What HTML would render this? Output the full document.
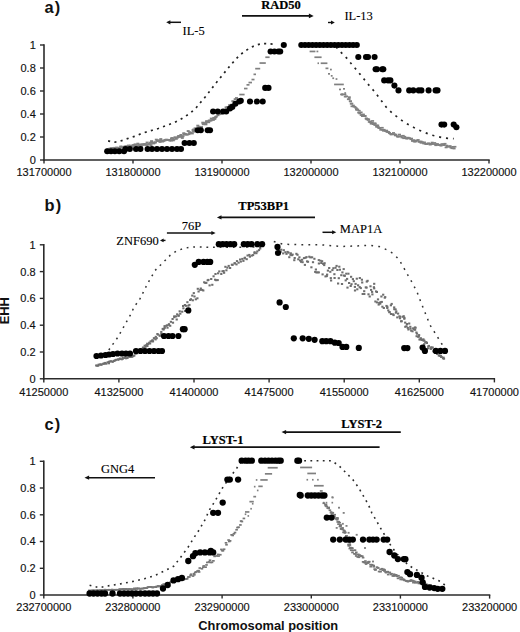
<!DOCTYPE html>
<html><head><meta charset="utf-8"><style>
html,body{margin:0;padding:0;background:#fff;}
svg{display:block;}
.n{font-family:"Liberation Sans",sans-serif;font-size:11px;fill:#111;stroke:#111;stroke-width:0.15px;}
.lab{font-family:"Liberation Sans",sans-serif;font-size:16.4px;letter-spacing:1.2px;font-weight:bold;fill:#111;}
.ax{font-family:"Liberation Sans",sans-serif;font-size:12.85px;font-weight:bold;fill:#111;}
.g{font-family:"Liberation Serif",serif;font-size:12.5px;fill:#000;stroke:#000;stroke-width:0.12px;}
.gb{font-family:"Liberation Serif",serif;font-size:12.5px;font-weight:bold;fill:#000;stroke:#000;stroke-width:0.2px;}
</style></head><body>
<svg width="520" height="632" viewBox="0 0 520 632">
<rect width="520" height="632" fill="#fff"/>
<line x1="44" y1="44.3" x2="44" y2="160.7" stroke="#2b2b2b" stroke-width="1.6"/>
<line x1="43.3" y1="160" x2="489.7" y2="160" stroke="#2b2b2b" stroke-width="1.6"/>
<line x1="40" y1="160.0" x2="44" y2="160.0" stroke="#2b2b2b" stroke-width="1.4"/>
<text x="35.8" y="163.9" text-anchor="end" class="n">0</text>
<line x1="40" y1="137.0" x2="44" y2="137.0" stroke="#2b2b2b" stroke-width="1.4"/>
<text x="35.8" y="140.9" text-anchor="end" class="n">0.2</text>
<line x1="40" y1="114.0" x2="44" y2="114.0" stroke="#2b2b2b" stroke-width="1.4"/>
<text x="35.8" y="117.9" text-anchor="end" class="n">0.4</text>
<line x1="40" y1="91.0" x2="44" y2="91.0" stroke="#2b2b2b" stroke-width="1.4"/>
<text x="35.8" y="94.9" text-anchor="end" class="n">0.6</text>
<line x1="40" y1="68.0" x2="44" y2="68.0" stroke="#2b2b2b" stroke-width="1.4"/>
<text x="35.8" y="71.9" text-anchor="end" class="n">0.8</text>
<line x1="40" y1="45.0" x2="44" y2="45.0" stroke="#2b2b2b" stroke-width="1.4"/>
<text x="35.8" y="48.9" text-anchor="end" class="n">1</text>
<line x1="44" y1="160" x2="44" y2="163.6" stroke="#2b2b2b" stroke-width="1.4"/>
<text x="44" y="176.2" text-anchor="middle" class="n">131700000</text>
<line x1="133" y1="160" x2="133" y2="163.6" stroke="#2b2b2b" stroke-width="1.4"/>
<text x="133" y="176.2" text-anchor="middle" class="n">131800000</text>
<line x1="222" y1="160" x2="222" y2="163.6" stroke="#2b2b2b" stroke-width="1.4"/>
<text x="222" y="176.2" text-anchor="middle" class="n">131900000</text>
<line x1="311" y1="160" x2="311" y2="163.6" stroke="#2b2b2b" stroke-width="1.4"/>
<text x="311" y="176.2" text-anchor="middle" class="n">132000000</text>
<line x1="400" y1="160" x2="400" y2="163.6" stroke="#2b2b2b" stroke-width="1.4"/>
<text x="400" y="176.2" text-anchor="middle" class="n">132100000</text>
<line x1="489" y1="160" x2="489" y2="163.6" stroke="#2b2b2b" stroke-width="1.4"/>
<text x="489" y="176.2" text-anchor="middle" class="n">132200000</text>
<text x="44.5" y="12.7" class="lab" text-anchor="start">a)</text>
<line x1="181" y1="22.3" x2="168.72" y2="22.3" stroke="#111" stroke-width="1.5"/>
<path d="M166.2,22.3 L170.39999999999998,20.2 L170.39999999999998,24.400000000000002 Z" fill="#111"/>
<text x="182.5" y="35.4" class="g" text-anchor="start">IL-5</text>
<line x1="242" y1="15.9" x2="310.82" y2="15.9" stroke="#111" stroke-width="1.8"/>
<path d="M313.7,15.9 L308.9,13.5 L308.9,18.3 Z" fill="#111"/>
<text x="281" y="9.4" class="gb" text-anchor="middle">RAD50</text>
<line x1="328" y1="22.5" x2="332.52000000000004" y2="22.5" stroke="#111" stroke-width="1.4"/>
<path d="M334.8,22.5 L331.0,20.5 L331.0,24.5 Z" fill="#111"/>
<text x="344.4" y="20.1" class="g" text-anchor="start">IL-13</text>
<rect x="106.3" y="148.4" width="3.0" height="2.0" fill="#808080"/>
<rect x="107.1" y="148.5" width="3.0" height="2.0" fill="#808080"/>
<rect x="108.5" y="147.6" width="3.0" height="2.0" fill="#808080"/>
<rect x="109.5" y="147.8" width="3.0" height="2.0" fill="#808080"/>
<rect x="110.0" y="147.3" width="3.0" height="2.0" fill="#808080"/>
<rect x="111.1" y="147.5" width="3.0" height="2.0" fill="#808080"/>
<rect x="112.4" y="147.4" width="3.0" height="2.0" fill="#808080"/>
<rect x="113.2" y="146.9" width="3.0" height="2.0" fill="#808080"/>
<rect x="114.6" y="147.7" width="3.0" height="2.0" fill="#808080"/>
<rect x="115.3" y="146.6" width="3.0" height="2.0" fill="#808080"/>
<rect x="116.9" y="147.9" width="3.0" height="2.0" fill="#808080"/>
<rect x="117.2" y="147.0" width="3.0" height="2.0" fill="#808080"/>
<rect x="118.1" y="146.9" width="3.0" height="2.0" fill="#808080"/>
<rect x="118.8" y="146.8" width="3.0" height="2.0" fill="#808080"/>
<rect x="119.2" y="145.6" width="3.0" height="2.0" fill="#808080"/>
<rect x="120.3" y="145.8" width="3.0" height="2.0" fill="#808080"/>
<rect x="121.5" y="146.3" width="3.0" height="2.0" fill="#808080"/>
<rect x="122.1" y="146.1" width="3.0" height="2.0" fill="#808080"/>
<rect x="123.6" y="145.4" width="3.0" height="2.0" fill="#808080"/>
<rect x="124.4" y="146.0" width="3.0" height="2.0" fill="#808080"/>
<rect x="125.3" y="145.3" width="3.0" height="2.0" fill="#808080"/>
<rect x="126.5" y="146.7" width="3.0" height="2.0" fill="#808080"/>
<rect x="126.9" y="144.6" width="3.0" height="2.0" fill="#808080"/>
<rect x="128.5" y="144.9" width="3.0" height="2.0" fill="#808080"/>
<rect x="129.3" y="144.7" width="3.0" height="2.0" fill="#808080"/>
<rect x="129.6" y="147.1" width="3.0" height="2.0" fill="#808080"/>
<rect x="130.8" y="144.9" width="3.0" height="2.0" fill="#808080"/>
<rect x="131.8" y="144.4" width="3.0" height="2.0" fill="#808080"/>
<rect x="132.3" y="144.0" width="3.0" height="2.0" fill="#808080"/>
<rect x="133.6" y="143.4" width="3.0" height="2.0" fill="#808080"/>
<rect x="134.8" y="144.0" width="3.0" height="2.0" fill="#808080"/>
<rect x="135.4" y="145.6" width="3.0" height="2.0" fill="#808080"/>
<rect x="136.3" y="142.7" width="3.0" height="2.0" fill="#808080"/>
<rect x="137.5" y="144.6" width="3.0" height="2.0" fill="#808080"/>
<rect x="137.9" y="143.9" width="3.0" height="2.0" fill="#808080"/>
<rect x="139.1" y="143.6" width="3.0" height="2.0" fill="#808080"/>
<rect x="139.9" y="145.5" width="3.0" height="2.0" fill="#808080"/>
<rect x="140.4" y="143.6" width="3.0" height="2.0" fill="#808080"/>
<rect x="141.4" y="143.5" width="3.0" height="2.0" fill="#808080"/>
<rect x="142.4" y="143.3" width="3.0" height="2.0" fill="#808080"/>
<rect x="143.0" y="143.6" width="3.0" height="2.0" fill="#808080"/>
<rect x="144.5" y="143.4" width="3.0" height="2.0" fill="#808080"/>
<rect x="143.9" y="143.2" width="3.0" height="2.0" fill="#808080"/>
<rect x="145.6" y="144.0" width="3.0" height="2.0" fill="#808080"/>
<rect x="145.6" y="141.6" width="3.0" height="2.0" fill="#808080"/>
<rect x="147.3" y="143.1" width="3.0" height="2.0" fill="#808080"/>
<rect x="148.2" y="143.1" width="3.0" height="2.0" fill="#808080"/>
<rect x="148.6" y="141.7" width="3.0" height="2.0" fill="#808080"/>
<rect x="149.5" y="144.1" width="3.0" height="2.0" fill="#808080"/>
<rect x="150.1" y="140.2" width="3.0" height="2.0" fill="#808080"/>
<rect x="151.0" y="141.9" width="3.0" height="2.0" fill="#808080"/>
<rect x="152.2" y="142.4" width="3.0" height="2.0" fill="#808080"/>
<rect x="153.2" y="141.5" width="3.0" height="2.0" fill="#808080"/>
<rect x="153.9" y="141.4" width="3.0" height="2.0" fill="#808080"/>
<rect x="154.8" y="138.7" width="3.0" height="2.0" fill="#808080"/>
<rect x="156.0" y="139.9" width="3.0" height="2.0" fill="#808080"/>
<rect x="156.7" y="139.6" width="3.0" height="2.0" fill="#808080"/>
<rect x="157.1" y="139.5" width="3.0" height="2.0" fill="#808080"/>
<rect x="158.5" y="140.9" width="3.0" height="2.0" fill="#808080"/>
<rect x="159.3" y="138.1" width="3.0" height="2.0" fill="#808080"/>
<rect x="159.7" y="139.7" width="3.0" height="2.0" fill="#808080"/>
<rect x="160.9" y="140.2" width="3.0" height="2.0" fill="#808080"/>
<rect x="161.2" y="140.4" width="3.0" height="2.0" fill="#808080"/>
<rect x="162.2" y="139.8" width="3.0" height="2.0" fill="#808080"/>
<rect x="163.2" y="139.3" width="3.0" height="2.0" fill="#808080"/>
<rect x="163.9" y="139.1" width="3.0" height="2.0" fill="#808080"/>
<rect x="164.7" y="138.7" width="3.0" height="2.0" fill="#808080"/>
<rect x="166.4" y="138.9" width="3.0" height="2.0" fill="#808080"/>
<rect x="167.0" y="139.0" width="3.0" height="2.0" fill="#808080"/>
<rect x="167.6" y="139.0" width="3.0" height="2.0" fill="#808080"/>
<rect x="168.5" y="139.6" width="3.0" height="2.0" fill="#808080"/>
<rect x="170.0" y="139.4" width="3.0" height="2.0" fill="#808080"/>
<rect x="170.4" y="137.2" width="3.0" height="2.0" fill="#808080"/>
<rect x="170.0" y="137.7" width="3.0" height="2.0" fill="#808080"/>
<rect x="171.1" y="137.3" width="3.0" height="2.0" fill="#808080"/>
<rect x="171.8" y="139.3" width="3.0" height="2.0" fill="#808080"/>
<rect x="172.5" y="138.3" width="3.0" height="2.0" fill="#808080"/>
<rect x="173.5" y="136.3" width="3.0" height="2.0" fill="#808080"/>
<rect x="174.8" y="137.8" width="3.0" height="2.0" fill="#808080"/>
<rect x="176.1" y="136.5" width="3.0" height="2.0" fill="#808080"/>
<rect x="176.8" y="135.7" width="3.0" height="2.0" fill="#808080"/>
<rect x="177.2" y="135.0" width="3.0" height="2.0" fill="#808080"/>
<rect x="177.9" y="135.7" width="3.0" height="2.0" fill="#808080"/>
<rect x="179.4" y="134.0" width="3.0" height="2.0" fill="#808080"/>
<rect x="179.3" y="135.5" width="3.0" height="2.0" fill="#808080"/>
<rect x="180.8" y="136.9" width="3.0" height="2.0" fill="#808080"/>
<rect x="181.5" y="135.2" width="3.0" height="2.0" fill="#808080"/>
<rect x="182.3" y="132.3" width="3.0" height="2.0" fill="#808080"/>
<rect x="182.6" y="132.9" width="3.0" height="2.0" fill="#808080"/>
<rect x="183.2" y="133.5" width="3.0" height="2.0" fill="#808080"/>
<rect x="184.1" y="133.1" width="3.0" height="2.0" fill="#808080"/>
<rect x="185.6" y="133.7" width="3.0" height="2.0" fill="#808080"/>
<rect x="186.7" y="130.1" width="3.0" height="2.0" fill="#808080"/>
<rect x="187.5" y="133.1" width="3.0" height="2.0" fill="#808080"/>
<rect x="188.3" y="131.4" width="3.0" height="2.0" fill="#808080"/>
<rect x="188.4" y="132.2" width="3.0" height="2.0" fill="#808080"/>
<rect x="189.3" y="131.7" width="3.0" height="2.0" fill="#808080"/>
<rect x="190.8" y="132.4" width="3.0" height="2.0" fill="#808080"/>
<rect x="191.6" y="129.0" width="3.0" height="2.0" fill="#808080"/>
<rect x="192.1" y="130.6" width="3.0" height="2.0" fill="#808080"/>
<rect x="192.1" y="128.6" width="3.0" height="2.0" fill="#808080"/>
<rect x="193.6" y="127.4" width="3.0" height="2.0" fill="#808080"/>
<rect x="194.3" y="128.2" width="3.0" height="2.0" fill="#808080"/>
<rect x="195.1" y="128.5" width="3.0" height="2.0" fill="#808080"/>
<rect x="195.4" y="128.8" width="3.0" height="2.0" fill="#808080"/>
<rect x="196.3" y="124.7" width="3.0" height="2.0" fill="#808080"/>
<rect x="197.1" y="128.5" width="3.0" height="2.0" fill="#808080"/>
<rect x="197.6" y="125.8" width="3.0" height="2.0" fill="#808080"/>
<rect x="198.4" y="127.1" width="3.0" height="2.0" fill="#808080"/>
<rect x="199.8" y="127.1" width="3.0" height="2.0" fill="#808080"/>
<rect x="200.0" y="126.1" width="3.0" height="2.0" fill="#808080"/>
<rect x="201.3" y="121.7" width="3.0" height="2.0" fill="#808080"/>
<rect x="201.8" y="123.2" width="3.0" height="2.0" fill="#808080"/>
<rect x="202.3" y="123.0" width="3.0" height="2.0" fill="#808080"/>
<rect x="204.1" y="121.9" width="3.0" height="2.0" fill="#808080"/>
<rect x="204.9" y="121.1" width="3.0" height="2.0" fill="#808080"/>
<rect x="204.4" y="123.3" width="3.0" height="2.0" fill="#808080"/>
<rect x="205.1" y="120.2" width="3.0" height="2.0" fill="#808080"/>
<rect x="206.0" y="120.8" width="3.0" height="2.0" fill="#808080"/>
<rect x="207.2" y="121.2" width="3.0" height="2.0" fill="#808080"/>
<rect x="207.8" y="119.5" width="3.0" height="2.0" fill="#808080"/>
<rect x="209.4" y="119.6" width="3.0" height="2.0" fill="#808080"/>
<rect x="209.8" y="117.6" width="3.0" height="2.0" fill="#808080"/>
<rect x="211.4" y="118.6" width="3.0" height="2.0" fill="#808080"/>
<rect x="211.9" y="118.7" width="3.0" height="2.0" fill="#808080"/>
<rect x="212.3" y="116.9" width="3.0" height="2.0" fill="#808080"/>
<rect x="213.3" y="117.9" width="3.0" height="2.0" fill="#808080"/>
<rect x="214.0" y="116.3" width="3.0" height="2.0" fill="#808080"/>
<rect x="214.8" y="115.6" width="3.0" height="2.0" fill="#808080"/>
<rect x="216.4" y="114.2" width="3.0" height="2.0" fill="#808080"/>
<rect x="217.7" y="113.2" width="3.0" height="2.0" fill="#808080"/>
<rect x="218.6" y="113.0" width="3.0" height="2.0" fill="#808080"/>
<rect x="219.7" y="112.6" width="3.0" height="2.0" fill="#808080"/>
<rect x="220.8" y="111.4" width="3.0" height="2.0" fill="#808080"/>
<rect x="221.2" y="111.0" width="3.0" height="2.0" fill="#808080"/>
<rect x="222.5" y="111.9" width="3.0" height="2.0" fill="#808080"/>
<rect x="223.7" y="109.5" width="3.0" height="2.0" fill="#808080"/>
<rect x="224.6" y="106.4" width="3.0" height="2.0" fill="#808080"/>
<rect x="225.9" y="106.2" width="3.0" height="2.0" fill="#808080"/>
<rect x="227.2" y="106.2" width="3.0" height="2.0" fill="#808080"/>
<rect x="228.2" y="104.1" width="3.0" height="2.0" fill="#808080"/>
<rect x="229.9" y="103.8" width="3.0" height="2.0" fill="#808080"/>
<rect x="230.7" y="104.5" width="3.0" height="2.0" fill="#808080"/>
<rect x="231.4" y="100.2" width="3.0" height="2.0" fill="#808080"/>
<rect x="232.9" y="101.8" width="3.0" height="2.0" fill="#808080"/>
<rect x="233.7" y="98.2" width="3.0" height="2.0" fill="#808080"/>
<rect x="235.0" y="97.1" width="3.0" height="2.0" fill="#808080"/>
<rect x="265.3" y="56.4" width="4.3" height="1.7" fill="#808080"/>
<rect x="259.5" y="62.2" width="6.3" height="1.7" fill="#808080"/>
<rect x="255.2" y="67.8" width="5.0" height="1.7" fill="#808080"/>
<rect x="253.5" y="73.5" width="2.5" height="1.7" fill="#808080"/>
<rect x="251.5" y="78.7" width="3.0" height="1.7" fill="#808080"/>
<rect x="248.5" y="81.7" width="3.5" height="1.7" fill="#808080"/>
<rect x="246.5" y="84.0" width="3.0" height="1.7" fill="#808080"/>
<rect x="244.0" y="87.7" width="3.5" height="1.7" fill="#808080"/>
<rect x="239.3" y="93.7" width="5.3" height="1.7" fill="#808080"/>
<rect x="309.6" y="50.6" width="5.8" height="1.7" fill="#808080"/>
<rect x="316.5" y="50.6" width="1.8" height="1.7" fill="#808080"/>
<rect x="314.4" y="56.4" width="7.2" height="1.7" fill="#808080"/>
<rect x="317.5" y="62.4" width="1.5" height="1.7" fill="#808080"/>
<rect x="320.7" y="62.4" width="6.7" height="1.7" fill="#808080"/>
<rect x="325.5" y="67.5" width="2.9" height="1.7" fill="#808080"/>
<rect x="330.0" y="68.7" width="1.8" height="1.7" fill="#808080"/>
<rect x="328.0" y="73.0" width="2.0" height="1.7" fill="#808080"/>
<rect x="330.8" y="75.0" width="1.8" height="1.7" fill="#808080"/>
<rect x="332.3" y="77.4" width="1.8" height="1.7" fill="#808080"/>
<rect x="335.6" y="78.2" width="1.8" height="1.7" fill="#808080"/>
<rect x="334.1" y="83.6" width="9.7" height="1.7" fill="#808080"/>
<rect x="339.0" y="88.6" width="2.0" height="1.7" fill="#808080"/>
<rect x="343.0" y="88.0" width="2.0" height="1.7" fill="#808080"/>
<rect x="341.0" y="93.7" width="2.0" height="1.7" fill="#808080"/>
<rect x="344.3" y="92.2" width="1.8" height="1.7" fill="#808080"/>
<rect x="340.1" y="93.6" width="3.0" height="1.7" fill="#808080"/>
<rect x="341.3" y="93.5" width="3.0" height="1.7" fill="#808080"/>
<rect x="343.4" y="93.7" width="3.0" height="1.7" fill="#808080"/>
<rect x="343.8" y="95.8" width="3.0" height="1.7" fill="#808080"/>
<rect x="345.0" y="95.5" width="3.0" height="1.7" fill="#808080"/>
<rect x="346.9" y="98.4" width="3.0" height="1.7" fill="#808080"/>
<rect x="347.7" y="98.1" width="3.0" height="1.7" fill="#808080"/>
<rect x="347.8" y="96.3" width="3.0" height="1.7" fill="#808080"/>
<rect x="348.9" y="100.6" width="3.0" height="1.7" fill="#808080"/>
<rect x="348.9" y="100.3" width="3.0" height="1.7" fill="#808080"/>
<rect x="349.8" y="102.9" width="3.0" height="1.7" fill="#808080"/>
<rect x="350.3" y="102.7" width="3.0" height="1.7" fill="#808080"/>
<rect x="350.5" y="105.5" width="3.0" height="1.7" fill="#808080"/>
<rect x="351.8" y="104.6" width="3.0" height="1.7" fill="#808080"/>
<rect x="352.4" y="105.7" width="3.0" height="1.7" fill="#808080"/>
<rect x="353.4" y="106.0" width="3.0" height="1.7" fill="#808080"/>
<rect x="354.5" y="107.1" width="3.0" height="1.7" fill="#808080"/>
<rect x="355.1" y="108.3" width="3.0" height="1.7" fill="#808080"/>
<rect x="355.3" y="108.5" width="3.0" height="1.7" fill="#808080"/>
<rect x="355.3" y="109.0" width="3.0" height="1.7" fill="#808080"/>
<rect x="356.2" y="108.7" width="3.0" height="1.7" fill="#808080"/>
<rect x="357.2" y="111.8" width="3.0" height="1.7" fill="#808080"/>
<rect x="357.7" y="109.9" width="3.0" height="1.7" fill="#808080"/>
<rect x="358.3" y="112.6" width="3.0" height="1.7" fill="#808080"/>
<rect x="359.6" y="111.5" width="3.0" height="1.7" fill="#808080"/>
<rect x="359.7" y="114.2" width="3.0" height="1.7" fill="#808080"/>
<rect x="360.7" y="113.9" width="3.0" height="1.7" fill="#808080"/>
<rect x="361.0" y="115.3" width="3.0" height="1.7" fill="#808080"/>
<rect x="361.9" y="113.6" width="3.0" height="1.7" fill="#808080"/>
<rect x="361.9" y="115.0" width="3.0" height="1.7" fill="#808080"/>
<rect x="363.3" y="115.0" width="3.0" height="1.7" fill="#808080"/>
<rect x="363.6" y="115.2" width="3.0" height="1.7" fill="#808080"/>
<rect x="364.8" y="117.5" width="3.0" height="1.7" fill="#808080"/>
<rect x="364.8" y="117.9" width="3.0" height="1.7" fill="#808080"/>
<rect x="365.5" y="118.5" width="3.0" height="1.7" fill="#808080"/>
<rect x="366.0" y="118.4" width="3.0" height="1.7" fill="#808080"/>
<rect x="366.8" y="119.1" width="3.0" height="1.7" fill="#808080"/>
<rect x="367.1" y="118.4" width="3.0" height="1.7" fill="#808080"/>
<rect x="367.8" y="121.1" width="3.0" height="1.7" fill="#808080"/>
<rect x="368.7" y="120.5" width="3.0" height="1.7" fill="#808080"/>
<rect x="368.9" y="121.5" width="3.0" height="1.7" fill="#808080"/>
<rect x="369.8" y="122.9" width="3.0" height="1.7" fill="#808080"/>
<rect x="370.8" y="122.0" width="3.0" height="1.7" fill="#808080"/>
<rect x="371.1" y="120.1" width="3.0" height="1.7" fill="#808080"/>
<rect x="371.8" y="123.3" width="3.0" height="1.7" fill="#808080"/>
<rect x="373.2" y="122.5" width="3.0" height="1.7" fill="#808080"/>
<rect x="373.4" y="124.2" width="3.0" height="1.7" fill="#808080"/>
<rect x="373.7" y="122.7" width="3.0" height="1.7" fill="#808080"/>
<rect x="375.1" y="124.7" width="3.0" height="1.7" fill="#808080"/>
<rect x="375.2" y="126.0" width="3.0" height="1.7" fill="#808080"/>
<rect x="376.2" y="124.5" width="3.0" height="1.7" fill="#808080"/>
<rect x="376.7" y="126.1" width="3.0" height="1.7" fill="#808080"/>
<rect x="377.2" y="127.0" width="3.0" height="1.7" fill="#808080"/>
<rect x="377.9" y="127.2" width="3.0" height="1.7" fill="#808080"/>
<rect x="378.6" y="127.0" width="3.0" height="1.7" fill="#808080"/>
<rect x="379.3" y="129.0" width="3.0" height="1.7" fill="#808080"/>
<rect x="380.7" y="126.9" width="3.0" height="1.7" fill="#808080"/>
<rect x="381.1" y="128.9" width="3.0" height="1.7" fill="#808080"/>
<rect x="382.1" y="130.0" width="3.0" height="1.7" fill="#808080"/>
<rect x="382.6" y="128.9" width="3.0" height="1.7" fill="#808080"/>
<rect x="384.2" y="130.2" width="3.0" height="1.7" fill="#808080"/>
<rect x="385.0" y="129.7" width="3.0" height="1.7" fill="#808080"/>
<rect x="385.2" y="130.3" width="3.0" height="1.7" fill="#808080"/>
<rect x="385.3" y="130.8" width="3.0" height="1.7" fill="#808080"/>
<rect x="386.2" y="131.3" width="3.0" height="1.7" fill="#808080"/>
<rect x="387.1" y="131.1" width="3.0" height="1.7" fill="#808080"/>
<rect x="387.9" y="132.1" width="3.0" height="1.7" fill="#808080"/>
<rect x="388.0" y="132.4" width="3.0" height="1.7" fill="#808080"/>
<rect x="389.3" y="133.1" width="3.0" height="1.7" fill="#808080"/>
<rect x="389.8" y="133.7" width="3.0" height="1.7" fill="#808080"/>
<rect x="390.8" y="133.3" width="3.0" height="1.7" fill="#808080"/>
<rect x="392.0" y="132.1" width="3.0" height="1.7" fill="#808080"/>
<rect x="393.0" y="133.5" width="3.0" height="1.7" fill="#808080"/>
<rect x="393.9" y="134.6" width="3.0" height="1.7" fill="#808080"/>
<rect x="394.4" y="133.7" width="3.0" height="1.7" fill="#808080"/>
<rect x="395.9" y="135.3" width="3.0" height="1.7" fill="#808080"/>
<rect x="396.4" y="135.8" width="3.0" height="1.7" fill="#808080"/>
<rect x="396.5" y="135.8" width="3.0" height="1.7" fill="#808080"/>
<rect x="398.0" y="133.7" width="3.0" height="1.7" fill="#808080"/>
<rect x="399.0" y="135.6" width="3.0" height="1.7" fill="#808080"/>
<rect x="399.6" y="135.3" width="3.0" height="1.7" fill="#808080"/>
<rect x="400.5" y="136.7" width="3.0" height="1.7" fill="#808080"/>
<rect x="401.7" y="134.9" width="3.0" height="1.7" fill="#808080"/>
<rect x="402.3" y="137.4" width="3.0" height="1.7" fill="#808080"/>
<rect x="403.3" y="135.9" width="3.0" height="1.7" fill="#808080"/>
<rect x="403.7" y="137.3" width="3.0" height="1.7" fill="#808080"/>
<rect x="404.6" y="137.3" width="3.0" height="1.7" fill="#808080"/>
<rect x="405.3" y="137.9" width="3.0" height="1.7" fill="#808080"/>
<rect x="406.6" y="136.8" width="3.0" height="1.7" fill="#808080"/>
<rect x="407.5" y="137.5" width="3.0" height="1.7" fill="#808080"/>
<rect x="407.8" y="137.3" width="3.0" height="1.7" fill="#808080"/>
<rect x="409.4" y="138.4" width="3.0" height="1.7" fill="#808080"/>
<rect x="410.0" y="137.7" width="3.0" height="1.7" fill="#808080"/>
<rect x="411.0" y="140.1" width="3.0" height="1.7" fill="#808080"/>
<rect x="411.5" y="139.7" width="3.0" height="1.7" fill="#808080"/>
<rect x="412.2" y="139.3" width="3.0" height="1.7" fill="#808080"/>
<rect x="412.8" y="140.8" width="3.0" height="1.7" fill="#808080"/>
<rect x="414.2" y="140.7" width="3.0" height="1.7" fill="#808080"/>
<rect x="414.7" y="139.8" width="3.0" height="1.7" fill="#808080"/>
<rect x="415.7" y="139.6" width="3.0" height="1.7" fill="#808080"/>
<rect x="416.7" y="139.1" width="3.0" height="1.7" fill="#808080"/>
<rect x="417.6" y="140.9" width="3.0" height="1.7" fill="#808080"/>
<rect x="418.1" y="140.9" width="3.0" height="1.7" fill="#808080"/>
<rect x="419.5" y="140.6" width="3.0" height="1.7" fill="#808080"/>
<rect x="419.6" y="142.0" width="3.0" height="1.7" fill="#808080"/>
<rect x="420.6" y="141.2" width="3.0" height="1.7" fill="#808080"/>
<rect x="422.1" y="142.6" width="3.0" height="1.7" fill="#808080"/>
<rect x="422.9" y="141.5" width="3.0" height="1.7" fill="#808080"/>
<rect x="423.6" y="142.7" width="3.0" height="1.7" fill="#808080"/>
<rect x="424.5" y="143.2" width="3.0" height="1.7" fill="#808080"/>
<rect x="425.1" y="143.3" width="3.0" height="1.7" fill="#808080"/>
<rect x="426.8" y="142.6" width="3.0" height="1.7" fill="#808080"/>
<rect x="427.1" y="142.6" width="3.0" height="1.7" fill="#808080"/>
<rect x="428.4" y="143.6" width="3.0" height="1.7" fill="#808080"/>
<rect x="428.7" y="142.9" width="3.0" height="1.7" fill="#808080"/>
<rect x="429.0" y="143.6" width="3.0" height="1.7" fill="#808080"/>
<rect x="430.3" y="143.1" width="3.0" height="1.7" fill="#808080"/>
<rect x="430.7" y="141.7" width="3.0" height="1.7" fill="#808080"/>
<rect x="431.6" y="143.2" width="3.0" height="1.7" fill="#808080"/>
<rect x="433.2" y="142.1" width="3.0" height="1.7" fill="#808080"/>
<rect x="434.0" y="143.6" width="3.0" height="1.7" fill="#808080"/>
<rect x="434.4" y="144.4" width="3.0" height="1.7" fill="#808080"/>
<rect x="435.1" y="143.4" width="3.0" height="1.7" fill="#808080"/>
<rect x="436.0" y="143.2" width="3.0" height="1.7" fill="#808080"/>
<rect x="437.1" y="144.2" width="3.0" height="1.7" fill="#808080"/>
<rect x="437.9" y="143.9" width="3.0" height="1.7" fill="#808080"/>
<rect x="439.5" y="144.8" width="3.0" height="1.7" fill="#808080"/>
<rect x="439.5" y="144.4" width="3.0" height="1.7" fill="#808080"/>
<rect x="440.5" y="143.2" width="3.0" height="1.7" fill="#808080"/>
<rect x="442.2" y="144.3" width="3.0" height="1.7" fill="#808080"/>
<rect x="442.5" y="143.3" width="3.0" height="1.7" fill="#808080"/>
<rect x="443.5" y="142.9" width="3.0" height="1.7" fill="#808080"/>
<rect x="444.6" y="146.6" width="3.0" height="1.7" fill="#808080"/>
<rect x="445.2" y="144.7" width="3.0" height="1.7" fill="#808080"/>
<rect x="445.8" y="145.6" width="3.0" height="1.7" fill="#808080"/>
<rect x="446.7" y="145.8" width="3.0" height="1.7" fill="#808080"/>
<rect x="448.5" y="145.2" width="3.0" height="1.7" fill="#808080"/>
<rect x="448.7" y="145.8" width="3.0" height="1.7" fill="#808080"/>
<rect x="449.5" y="146.8" width="3.0" height="1.7" fill="#808080"/>
<rect x="450.6" y="147.4" width="3.0" height="1.7" fill="#808080"/>
<rect x="451.9" y="146.0" width="3.0" height="1.7" fill="#808080"/>
<rect x="452.6" y="147.7" width="3.0" height="1.7" fill="#808080"/>
<rect x="453.4" y="145.9" width="3.0" height="1.7" fill="#808080"/>
<path d="M108.1,140.9 L113.8,142.3 L118.5,141.7 L124.2,139.8 L130.0,137.7 L135.8,136.0 L141.0,133.7 L146.7,131.9 L152.5,130.2 L158.3,128.5 L169.2,124.5 L175.0,122.3 L180.2,119.6 L185.6,116.2 L190.8,112.7 L196.2,107.7 L199.6,103.5 L205.8,96.3 L215.4,83.8 L224.5,72.6 L229.4,66.6 L234.6,60.5 L240.2,54.7 L245.9,50.5 L251.7,47.0 L256.8,44.9 L262.9,43.5 L268.7,43.8 L276.0,44.4" fill="none" stroke="#222" stroke-width="1.7" stroke-linecap="butt" stroke-dasharray="2.1 4.3"/>
<path d="M336.0,47.0 L340.8,52.1 L346.5,57.9 L351.3,63.7 L360.2,74.4 L367.9,84.0 L374.6,91.7 L380.4,99.4 L386.2,107.1 L393.0,113.8 L403.8,121.9 L417.3,129.5 L430.8,134.9 L444.2,138.1 L453.7,138.6" fill="none" stroke="#222" stroke-width="1.7" stroke-linecap="butt" stroke-dasharray="2.1 4.9"/>
<circle cx="107.2" cy="151.3" r="3.05" fill="#000"/>
<circle cx="111.0" cy="151.3" r="3.05" fill="#000"/>
<circle cx="114.9" cy="151.3" r="3.05" fill="#000"/>
<circle cx="119.2" cy="151.3" r="3.05" fill="#000"/>
<circle cx="124.0" cy="151.3" r="3.05" fill="#000"/>
<circle cx="125.5" cy="149.0" r="3.05" fill="#000"/>
<circle cx="129.8" cy="149.0" r="3.05" fill="#000"/>
<circle cx="136.0" cy="149.0" r="3.05" fill="#000"/>
<circle cx="140.4" cy="149.0" r="3.05" fill="#000"/>
<circle cx="147.6" cy="149.0" r="3.05" fill="#000"/>
<circle cx="152.0" cy="149.0" r="3.05" fill="#000"/>
<circle cx="157.0" cy="149.0" r="3.05" fill="#000"/>
<circle cx="162.0" cy="149.0" r="3.05" fill="#000"/>
<circle cx="167.0" cy="149.0" r="3.05" fill="#000"/>
<circle cx="172.0" cy="149.0" r="3.05" fill="#000"/>
<circle cx="177.0" cy="149.0" r="3.05" fill="#000"/>
<circle cx="181.0" cy="149.0" r="3.05" fill="#000"/>
<circle cx="184.6" cy="143.0" r="3.05" fill="#000"/>
<circle cx="189.4" cy="143.0" r="3.05" fill="#000"/>
<circle cx="193.8" cy="143.0" r="3.05" fill="#000"/>
<circle cx="197.7" cy="130.3" r="3.05" fill="#000"/>
<circle cx="200.8" cy="130.3" r="3.05" fill="#000"/>
<circle cx="207.7" cy="130.3" r="3.05" fill="#000"/>
<circle cx="210.0" cy="130.3" r="3.05" fill="#000"/>
<circle cx="213.1" cy="111.5" r="3.05" fill="#000"/>
<circle cx="217.7" cy="111.5" r="3.05" fill="#000"/>
<circle cx="223.1" cy="111.5" r="3.05" fill="#000"/>
<circle cx="226.2" cy="111.5" r="3.05" fill="#000"/>
<circle cx="230.0" cy="108.5" r="3.05" fill="#000"/>
<circle cx="232.3" cy="106.9" r="3.05" fill="#000"/>
<circle cx="235.4" cy="103.8" r="3.05" fill="#000"/>
<circle cx="239.2" cy="101.5" r="3.05" fill="#000"/>
<circle cx="240.8" cy="100.8" r="3.05" fill="#000"/>
<circle cx="250.0" cy="101.5" r="3.05" fill="#000"/>
<circle cx="256.9" cy="101.5" r="3.05" fill="#000"/>
<circle cx="262.7" cy="101.5" r="3.05" fill="#000"/>
<circle cx="265.2" cy="87.9" r="3.05" fill="#000"/>
<circle cx="268.5" cy="87.9" r="3.05" fill="#000"/>
<circle cx="270.6" cy="51.5" r="3.05" fill="#000"/>
<circle cx="274.4" cy="51.5" r="3.05" fill="#000"/>
<circle cx="278.3" cy="51.5" r="3.05" fill="#000"/>
<circle cx="280.2" cy="51.5" r="3.05" fill="#000"/>
<circle cx="283.8" cy="45.0" r="3.05" fill="#000"/>
<circle cx="301.3" cy="45.0" r="3.05" fill="#000"/>
<circle cx="305.0" cy="45.0" r="3.05" fill="#000"/>
<circle cx="308.7" cy="45.0" r="3.05" fill="#000"/>
<circle cx="312.4" cy="45.0" r="3.05" fill="#000"/>
<circle cx="316.1" cy="45.0" r="3.05" fill="#000"/>
<circle cx="319.8" cy="45.0" r="3.05" fill="#000"/>
<circle cx="323.5" cy="45.0" r="3.05" fill="#000"/>
<circle cx="327.2" cy="45.0" r="3.05" fill="#000"/>
<circle cx="330.9" cy="45.0" r="3.05" fill="#000"/>
<circle cx="334.6" cy="45.0" r="3.05" fill="#000"/>
<circle cx="338.3" cy="45.0" r="3.05" fill="#000"/>
<circle cx="342.0" cy="45.0" r="3.05" fill="#000"/>
<circle cx="345.7" cy="45.0" r="3.05" fill="#000"/>
<circle cx="349.4" cy="45.0" r="3.05" fill="#000"/>
<circle cx="353.1" cy="45.0" r="3.05" fill="#000"/>
<circle cx="356.8" cy="45.0" r="3.05" fill="#000"/>
<circle cx="358.3" cy="57.0" r="3.05" fill="#000"/>
<circle cx="366.0" cy="57.0" r="3.05" fill="#000"/>
<circle cx="368.0" cy="57.0" r="3.05" fill="#000"/>
<circle cx="374.6" cy="57.0" r="3.05" fill="#000"/>
<circle cx="375.6" cy="69.3" r="3.05" fill="#000"/>
<circle cx="377.0" cy="69.3" r="3.05" fill="#000"/>
<circle cx="382.3" cy="69.3" r="3.05" fill="#000"/>
<circle cx="383.3" cy="69.3" r="3.05" fill="#000"/>
<circle cx="384.2" cy="80.4" r="3.05" fill="#000"/>
<circle cx="388.0" cy="80.4" r="3.05" fill="#000"/>
<circle cx="390.4" cy="80.4" r="3.05" fill="#000"/>
<circle cx="394.4" cy="85.6" r="3.05" fill="#000"/>
<circle cx="398.5" cy="90.4" r="3.05" fill="#000"/>
<circle cx="409.2" cy="90.4" r="3.05" fill="#000"/>
<circle cx="413.3" cy="90.4" r="3.05" fill="#000"/>
<circle cx="418.7" cy="90.4" r="3.05" fill="#000"/>
<circle cx="421.4" cy="90.4" r="3.05" fill="#000"/>
<circle cx="428.6" cy="90.4" r="3.05" fill="#000"/>
<circle cx="435.6" cy="90.4" r="3.05" fill="#000"/>
<circle cx="437.5" cy="90.4" r="3.05" fill="#000"/>
<circle cx="441.5" cy="124.6" r="3.05" fill="#000"/>
<circle cx="444.2" cy="124.6" r="3.05" fill="#000"/>
<circle cx="453.7" cy="124.6" r="3.05" fill="#000"/>
<circle cx="456.4" cy="127.3" r="3.05" fill="#000"/>
<line x1="43.8" y1="244.10000000000002" x2="43.8" y2="379.5" stroke="#2b2b2b" stroke-width="1.6"/>
<line x1="43.099999999999994" y1="378.8" x2="495.09999999999997" y2="378.8" stroke="#2b2b2b" stroke-width="1.6"/>
<line x1="39.8" y1="378.8" x2="43.8" y2="378.8" stroke="#2b2b2b" stroke-width="1.4"/>
<text x="35.599999999999994" y="382.7" text-anchor="end" class="n">0</text>
<line x1="39.8" y1="352.0" x2="43.8" y2="352.0" stroke="#2b2b2b" stroke-width="1.4"/>
<text x="35.599999999999994" y="355.9" text-anchor="end" class="n">0.2</text>
<line x1="39.8" y1="325.2" x2="43.8" y2="325.2" stroke="#2b2b2b" stroke-width="1.4"/>
<text x="35.599999999999994" y="329.09999999999997" text-anchor="end" class="n">0.4</text>
<line x1="39.8" y1="298.4" x2="43.8" y2="298.4" stroke="#2b2b2b" stroke-width="1.4"/>
<text x="35.599999999999994" y="302.29999999999995" text-anchor="end" class="n">0.6</text>
<line x1="39.8" y1="271.6" x2="43.8" y2="271.6" stroke="#2b2b2b" stroke-width="1.4"/>
<text x="35.599999999999994" y="275.5" text-anchor="end" class="n">0.8</text>
<line x1="39.8" y1="244.8" x2="43.8" y2="244.8" stroke="#2b2b2b" stroke-width="1.4"/>
<text x="35.599999999999994" y="248.70000000000002" text-anchor="end" class="n">1</text>
<line x1="43.8" y1="378.8" x2="43.8" y2="382.40000000000003" stroke="#2b2b2b" stroke-width="1.4"/>
<text x="43.8" y="395.6" text-anchor="middle" class="n">41250000</text>
<line x1="118.9" y1="378.8" x2="118.9" y2="382.40000000000003" stroke="#2b2b2b" stroke-width="1.4"/>
<text x="118.9" y="395.6" text-anchor="middle" class="n">41325000</text>
<line x1="194.0" y1="378.8" x2="194.0" y2="382.40000000000003" stroke="#2b2b2b" stroke-width="1.4"/>
<text x="194.0" y="395.6" text-anchor="middle" class="n">41400000</text>
<line x1="269.1" y1="378.8" x2="269.1" y2="382.40000000000003" stroke="#2b2b2b" stroke-width="1.4"/>
<text x="269.1" y="395.6" text-anchor="middle" class="n">41475000</text>
<line x1="344.2" y1="378.8" x2="344.2" y2="382.40000000000003" stroke="#2b2b2b" stroke-width="1.4"/>
<text x="344.2" y="395.6" text-anchor="middle" class="n">41550000</text>
<line x1="419.3" y1="378.8" x2="419.3" y2="382.40000000000003" stroke="#2b2b2b" stroke-width="1.4"/>
<text x="419.3" y="395.6" text-anchor="middle" class="n">41625000</text>
<line x1="494.4" y1="378.8" x2="494.4" y2="382.40000000000003" stroke="#2b2b2b" stroke-width="1.4"/>
<text x="494.4" y="395.6" text-anchor="middle" class="n">41700000</text>
<text x="44.5" y="211.4" class="lab" text-anchor="start">b)</text>
<line x1="165.5" y1="240.4" x2="162.16" y2="240.4" stroke="#111" stroke-width="1.4"/>
<path d="M160,240.4 L163.6,238.5 L163.6,242.3 Z" fill="#111"/>
<text x="116.3" y="245" class="g" text-anchor="start">ZNF690</text>
<line x1="166.9" y1="232.9" x2="213.07999999999998" y2="232.9" stroke="#111" stroke-width="1.5"/>
<path d="M215.6,232.9 L211.4,230.9 L211.4,234.9 Z" fill="#111"/>
<text x="191.5" y="229.8" class="g" text-anchor="middle">76P</text>
<line x1="315" y1="217.4" x2="219.66" y2="217.4" stroke="#111" stroke-width="1.6"/>
<path d="M216.9,217.4 L221.5,215.20000000000002 L221.5,219.6 Z" fill="#111"/>
<text x="263.7" y="210" class="gb" text-anchor="middle">TP53BP1</text>
<line x1="322.5" y1="232.3" x2="333.78000000000003" y2="232.3" stroke="#111" stroke-width="1.5"/>
<path d="M336.3,232.3 L332.1,230.3 L332.1,234.3 Z" fill="#111"/>
<text x="339.8" y="232.8" class="g" text-anchor="start">MAP1A</text>
<rect x="95.1" y="364.5" width="2.2" height="2.0" fill="#6e6e6e"/>
<rect x="96.1" y="364.7" width="2.2" height="2.0" fill="#6e6e6e"/>
<rect x="97.1" y="364.7" width="2.2" height="2.0" fill="#6e6e6e"/>
<rect x="97.6" y="363.6" width="2.2" height="2.0" fill="#6e6e6e"/>
<rect x="99.2" y="363.5" width="2.2" height="2.0" fill="#6e6e6e"/>
<rect x="99.7" y="363.5" width="2.2" height="2.0" fill="#6e6e6e"/>
<rect x="100.5" y="363.7" width="2.2" height="2.0" fill="#6e6e6e"/>
<rect x="102.1" y="362.8" width="2.2" height="2.0" fill="#6e6e6e"/>
<rect x="102.8" y="362.6" width="2.2" height="2.0" fill="#6e6e6e"/>
<rect x="103.6" y="362.5" width="2.2" height="2.0" fill="#6e6e6e"/>
<rect x="104.2" y="361.9" width="2.2" height="2.0" fill="#6e6e6e"/>
<rect x="105.2" y="362.7" width="2.2" height="2.0" fill="#6e6e6e"/>
<rect x="106.5" y="361.4" width="2.2" height="2.0" fill="#6e6e6e"/>
<rect x="107.8" y="362.3" width="2.2" height="2.0" fill="#6e6e6e"/>
<rect x="107.6" y="361.0" width="2.2" height="2.0" fill="#6e6e6e"/>
<rect x="108.3" y="360.6" width="2.2" height="2.0" fill="#6e6e6e"/>
<rect x="109.5" y="360.3" width="2.2" height="2.0" fill="#6e6e6e"/>
<rect x="110.3" y="360.3" width="2.2" height="2.0" fill="#6e6e6e"/>
<rect x="111.6" y="360.9" width="2.2" height="2.0" fill="#6e6e6e"/>
<rect x="112.7" y="359.9" width="2.2" height="2.0" fill="#6e6e6e"/>
<rect x="113.4" y="359.8" width="2.2" height="2.0" fill="#6e6e6e"/>
<rect x="114.3" y="359.2" width="2.2" height="2.0" fill="#6e6e6e"/>
<rect x="114.9" y="358.8" width="2.2" height="2.0" fill="#6e6e6e"/>
<rect x="116.8" y="358.3" width="2.2" height="2.0" fill="#6e6e6e"/>
<rect x="117.3" y="358.8" width="2.2" height="2.0" fill="#6e6e6e"/>
<rect x="118.6" y="357.9" width="2.2" height="2.0" fill="#6e6e6e"/>
<rect x="119.0" y="357.6" width="2.2" height="2.0" fill="#6e6e6e"/>
<rect x="119.2" y="357.9" width="2.2" height="2.0" fill="#6e6e6e"/>
<rect x="120.7" y="358.3" width="2.2" height="2.0" fill="#6e6e6e"/>
<rect x="121.6" y="356.8" width="2.2" height="2.0" fill="#6e6e6e"/>
<rect x="121.8" y="357.7" width="2.2" height="2.0" fill="#6e6e6e"/>
<rect x="123.6" y="357.0" width="2.2" height="2.0" fill="#6e6e6e"/>
<rect x="124.3" y="356.0" width="2.2" height="2.0" fill="#6e6e6e"/>
<rect x="125.0" y="357.3" width="2.2" height="2.0" fill="#6e6e6e"/>
<rect x="126.4" y="357.0" width="2.2" height="2.0" fill="#6e6e6e"/>
<rect x="127.6" y="355.7" width="2.2" height="2.0" fill="#6e6e6e"/>
<rect x="127.7" y="355.3" width="2.2" height="2.0" fill="#6e6e6e"/>
<rect x="129.1" y="356.0" width="2.2" height="2.0" fill="#6e6e6e"/>
<rect x="130.4" y="355.8" width="2.2" height="2.0" fill="#6e6e6e"/>
<rect x="131.1" y="355.7" width="2.2" height="2.0" fill="#6e6e6e"/>
<rect x="131.9" y="355.1" width="2.2" height="2.0" fill="#6e6e6e"/>
<rect x="132.2" y="354.9" width="2.2" height="2.0" fill="#6e6e6e"/>
<rect x="133.2" y="354.6" width="2.2" height="2.0" fill="#6e6e6e"/>
<rect x="134.4" y="352.8" width="2.2" height="2.0" fill="#6e6e6e"/>
<rect x="134.7" y="352.1" width="2.2" height="2.0" fill="#6e6e6e"/>
<rect x="136.0" y="352.3" width="2.2" height="2.0" fill="#6e6e6e"/>
<rect x="136.3" y="350.5" width="2.2" height="2.0" fill="#6e6e6e"/>
<rect x="137.5" y="350.9" width="2.2" height="2.0" fill="#6e6e6e"/>
<rect x="138.1" y="349.5" width="2.2" height="2.0" fill="#6e6e6e"/>
<rect x="139.1" y="348.5" width="2.2" height="2.0" fill="#6e6e6e"/>
<rect x="139.6" y="348.8" width="2.2" height="2.0" fill="#6e6e6e"/>
<rect x="141.1" y="348.6" width="2.2" height="2.0" fill="#6e6e6e"/>
<rect x="141.8" y="347.6" width="2.2" height="2.0" fill="#6e6e6e"/>
<rect x="141.9" y="346.5" width="2.2" height="2.0" fill="#6e6e6e"/>
<rect x="143.4" y="346.9" width="2.2" height="2.0" fill="#6e6e6e"/>
<rect x="143.6" y="344.7" width="2.2" height="2.0" fill="#6e6e6e"/>
<rect x="144.6" y="345.6" width="2.2" height="2.0" fill="#6e6e6e"/>
<rect x="145.3" y="344.0" width="2.2" height="2.0" fill="#6e6e6e"/>
<rect x="146.3" y="345.0" width="2.2" height="2.0" fill="#6e6e6e"/>
<rect x="146.1" y="342.7" width="2.2" height="2.0" fill="#6e6e6e"/>
<rect x="147.0" y="343.0" width="2.2" height="2.0" fill="#6e6e6e"/>
<rect x="148.1" y="341.7" width="2.2" height="2.0" fill="#6e6e6e"/>
<rect x="149.0" y="342.5" width="2.2" height="2.0" fill="#6e6e6e"/>
<rect x="149.5" y="340.4" width="2.2" height="2.0" fill="#6e6e6e"/>
<rect x="150.7" y="340.1" width="2.2" height="2.0" fill="#6e6e6e"/>
<rect x="151.3" y="339.2" width="2.2" height="2.0" fill="#6e6e6e"/>
<rect x="151.5" y="340.1" width="2.2" height="2.0" fill="#6e6e6e"/>
<rect x="151.9" y="340.4" width="2.2" height="2.0" fill="#6e6e6e"/>
<rect x="152.8" y="337.3" width="2.2" height="2.0" fill="#6e6e6e"/>
<rect x="153.3" y="337.3" width="2.2" height="2.0" fill="#6e6e6e"/>
<rect x="154.5" y="338.4" width="2.2" height="2.0" fill="#6e6e6e"/>
<rect x="154.7" y="335.8" width="2.2" height="2.0" fill="#6e6e6e"/>
<rect x="155.6" y="337.2" width="2.2" height="2.0" fill="#6e6e6e"/>
<rect x="156.3" y="333.0" width="2.2" height="2.0" fill="#6e6e6e"/>
<rect x="157.0" y="333.6" width="2.2" height="2.0" fill="#6e6e6e"/>
<rect x="158.6" y="334.8" width="2.2" height="2.0" fill="#6e6e6e"/>
<rect x="159.2" y="334.5" width="2.2" height="2.0" fill="#6e6e6e"/>
<rect x="160.2" y="330.9" width="2.2" height="2.0" fill="#6e6e6e"/>
<rect x="160.2" y="332.8" width="2.2" height="2.0" fill="#6e6e6e"/>
<rect x="161.6" y="327.9" width="2.2" height="2.0" fill="#6e6e6e"/>
<rect x="162.4" y="328.6" width="2.2" height="2.0" fill="#6e6e6e"/>
<rect x="162.9" y="327.6" width="2.2" height="2.0" fill="#6e6e6e"/>
<rect x="163.5" y="325.1" width="2.2" height="2.0" fill="#6e6e6e"/>
<rect x="163.7" y="326.8" width="2.2" height="2.0" fill="#6e6e6e"/>
<rect x="165.2" y="324.8" width="2.2" height="2.0" fill="#6e6e6e"/>
<rect x="166.1" y="324.3" width="2.2" height="2.0" fill="#6e6e6e"/>
<rect x="166.4" y="326.7" width="2.2" height="2.0" fill="#6e6e6e"/>
<rect x="167.8" y="323.8" width="2.2" height="2.0" fill="#6e6e6e"/>
<rect x="167.9" y="323.2" width="2.2" height="2.0" fill="#6e6e6e"/>
<rect x="169.1" y="324.8" width="2.2" height="2.0" fill="#6e6e6e"/>
<rect x="169.8" y="320.8" width="2.2" height="2.0" fill="#6e6e6e"/>
<rect x="171.5" y="318.0" width="2.2" height="2.0" fill="#6e6e6e"/>
<rect x="171.9" y="321.7" width="2.2" height="2.0" fill="#6e6e6e"/>
<rect x="173.2" y="316.2" width="2.2" height="2.0" fill="#6e6e6e"/>
<rect x="173.2" y="315.3" width="2.2" height="2.0" fill="#6e6e6e"/>
<rect x="175.0" y="315.4" width="2.2" height="2.0" fill="#6e6e6e"/>
<rect x="175.6" y="318.5" width="2.2" height="2.0" fill="#6e6e6e"/>
<rect x="176.1" y="313.3" width="2.2" height="2.0" fill="#6e6e6e"/>
<rect x="177.4" y="314.8" width="2.2" height="2.0" fill="#6e6e6e"/>
<rect x="177.6" y="314.5" width="2.2" height="2.0" fill="#6e6e6e"/>
<rect x="178.6" y="310.3" width="2.2" height="2.0" fill="#6e6e6e"/>
<rect x="179.2" y="312.7" width="2.2" height="2.0" fill="#6e6e6e"/>
<rect x="181.1" y="310.7" width="2.2" height="2.0" fill="#6e6e6e"/>
<rect x="182.0" y="305.0" width="2.2" height="2.0" fill="#6e6e6e"/>
<rect x="182.3" y="307.3" width="2.2" height="2.0" fill="#6e6e6e"/>
<rect x="184.0" y="310.0" width="2.2" height="2.0" fill="#6e6e6e"/>
<rect x="183.8" y="304.0" width="2.2" height="2.0" fill="#6e6e6e"/>
<rect x="184.8" y="304.8" width="2.2" height="2.0" fill="#6e6e6e"/>
<rect x="186.3" y="301.2" width="2.2" height="2.0" fill="#6e6e6e"/>
<rect x="187.2" y="304.7" width="2.2" height="2.0" fill="#6e6e6e"/>
<rect x="188.3" y="303.9" width="2.2" height="2.0" fill="#6e6e6e"/>
<rect x="189.1" y="299.0" width="2.2" height="2.0" fill="#6e6e6e"/>
<rect x="189.8" y="298.2" width="2.2" height="2.0" fill="#6e6e6e"/>
<rect x="191.2" y="294.6" width="2.2" height="2.0" fill="#6e6e6e"/>
<rect x="191.7" y="299.3" width="2.2" height="2.0" fill="#6e6e6e"/>
<rect x="192.7" y="292.1" width="2.2" height="2.0" fill="#6e6e6e"/>
<rect x="193.4" y="295.5" width="2.2" height="2.0" fill="#6e6e6e"/>
<rect x="194.7" y="298.3" width="2.2" height="2.0" fill="#6e6e6e"/>
<rect x="196.3" y="297.3" width="2.2" height="2.0" fill="#6e6e6e"/>
<rect x="196.7" y="287.8" width="2.2" height="2.0" fill="#6e6e6e"/>
<rect x="197.5" y="290.5" width="2.2" height="2.0" fill="#6e6e6e"/>
<rect x="199.2" y="288.9" width="2.2" height="2.0" fill="#6e6e6e"/>
<rect x="199.7" y="287.5" width="2.2" height="2.0" fill="#6e6e6e"/>
<rect x="201.1" y="288.9" width="2.2" height="2.0" fill="#6e6e6e"/>
<rect x="202.2" y="289.5" width="2.2" height="2.0" fill="#6e6e6e"/>
<rect x="203.1" y="281.3" width="2.2" height="2.0" fill="#6e6e6e"/>
<rect x="204.2" y="281.9" width="2.2" height="2.0" fill="#6e6e6e"/>
<rect x="205.2" y="281.9" width="2.2" height="2.0" fill="#6e6e6e"/>
<rect x="206.6" y="279.3" width="2.2" height="2.0" fill="#6e6e6e"/>
<rect x="207.3" y="278.9" width="2.2" height="2.0" fill="#6e6e6e"/>
<rect x="208.5" y="284.4" width="2.2" height="2.0" fill="#6e6e6e"/>
<rect x="210.1" y="278.0" width="2.2" height="2.0" fill="#6e6e6e"/>
<rect x="211.2" y="283.8" width="2.2" height="2.0" fill="#6e6e6e"/>
<rect x="212.5" y="275.3" width="2.2" height="2.0" fill="#6e6e6e"/>
<rect x="214.0" y="278.7" width="2.2" height="2.0" fill="#6e6e6e"/>
<rect x="214.4" y="273.0" width="2.2" height="2.0" fill="#6e6e6e"/>
<rect x="215.0" y="279.2" width="2.2" height="2.0" fill="#6e6e6e"/>
<rect x="216.6" y="279.1" width="2.2" height="2.0" fill="#6e6e6e"/>
<rect x="217.0" y="272.3" width="2.2" height="2.0" fill="#6e6e6e"/>
<rect x="218.2" y="270.4" width="2.2" height="2.0" fill="#6e6e6e"/>
<rect x="220.2" y="273.0" width="2.2" height="2.0" fill="#6e6e6e"/>
<rect x="221.4" y="270.3" width="2.2" height="2.0" fill="#6e6e6e"/>
<rect x="222.5" y="270.0" width="2.2" height="2.0" fill="#6e6e6e"/>
<rect x="223.0" y="271.8" width="2.2" height="2.0" fill="#6e6e6e"/>
<rect x="224.3" y="265.8" width="2.2" height="2.0" fill="#6e6e6e"/>
<rect x="225.3" y="269.3" width="2.2" height="2.0" fill="#6e6e6e"/>
<rect x="226.3" y="266.7" width="2.2" height="2.0" fill="#6e6e6e"/>
<rect x="227.6" y="264.9" width="2.2" height="2.0" fill="#6e6e6e"/>
<rect x="229.0" y="267.0" width="2.2" height="2.0" fill="#6e6e6e"/>
<rect x="230.8" y="263.7" width="2.2" height="2.0" fill="#6e6e6e"/>
<rect x="231.5" y="263.9" width="2.2" height="2.0" fill="#6e6e6e"/>
<rect x="233.5" y="262.4" width="2.2" height="2.0" fill="#6e6e6e"/>
<rect x="233.7" y="262.2" width="2.2" height="2.0" fill="#6e6e6e"/>
<rect x="235.4" y="263.4" width="2.2" height="2.0" fill="#6e6e6e"/>
<rect x="235.9" y="260.1" width="2.2" height="2.0" fill="#6e6e6e"/>
<rect x="237.5" y="261.7" width="2.2" height="2.0" fill="#6e6e6e"/>
<rect x="239.0" y="258.5" width="2.2" height="2.0" fill="#6e6e6e"/>
<rect x="239.7" y="260.6" width="2.2" height="2.0" fill="#6e6e6e"/>
<rect x="241.2" y="257.9" width="2.2" height="2.0" fill="#6e6e6e"/>
<rect x="242.3" y="259.9" width="2.2" height="2.0" fill="#6e6e6e"/>
<rect x="243.5" y="257.4" width="2.2" height="2.0" fill="#6e6e6e"/>
<rect x="243.8" y="256.7" width="2.2" height="2.0" fill="#6e6e6e"/>
<rect x="245.6" y="258.2" width="2.2" height="2.0" fill="#6e6e6e"/>
<rect x="246.5" y="254.5" width="2.2" height="2.0" fill="#6e6e6e"/>
<rect x="248.2" y="253.9" width="2.2" height="2.0" fill="#6e6e6e"/>
<rect x="248.8" y="255.7" width="2.2" height="2.0" fill="#6e6e6e"/>
<rect x="250.7" y="254.6" width="2.2" height="2.0" fill="#6e6e6e"/>
<rect x="252.0" y="254.1" width="2.2" height="2.0" fill="#6e6e6e"/>
<rect x="253.5" y="251.2" width="2.2" height="2.0" fill="#6e6e6e"/>
<rect x="253.4" y="252.2" width="2.2" height="2.0" fill="#6e6e6e"/>
<rect x="255.3" y="252.2" width="2.2" height="2.0" fill="#6e6e6e"/>
<rect x="256.2" y="250.4" width="2.2" height="2.0" fill="#6e6e6e"/>
<rect x="257.9" y="249.1" width="2.2" height="2.0" fill="#6e6e6e"/>
<rect x="259.1" y="247.5" width="2.2" height="2.0" fill="#6e6e6e"/>
<rect x="277.9" y="248.9" width="2.2" height="2.0" fill="#6e6e6e"/>
<rect x="278.4" y="248.9" width="2.2" height="2.0" fill="#6e6e6e"/>
<rect x="279.6" y="250.8" width="2.2" height="2.0" fill="#6e6e6e"/>
<rect x="280.2" y="248.7" width="2.2" height="2.0" fill="#6e6e6e"/>
<rect x="282.1" y="252.4" width="2.2" height="2.0" fill="#6e6e6e"/>
<rect x="282.7" y="249.2" width="2.2" height="2.0" fill="#6e6e6e"/>
<rect x="284.3" y="251.2" width="2.2" height="2.0" fill="#6e6e6e"/>
<rect x="285.4" y="252.9" width="2.2" height="2.0" fill="#6e6e6e"/>
<rect x="286.5" y="250.9" width="2.2" height="2.0" fill="#6e6e6e"/>
<rect x="287.5" y="251.7" width="2.2" height="2.0" fill="#6e6e6e"/>
<rect x="288.2" y="256.2" width="2.2" height="2.0" fill="#6e6e6e"/>
<rect x="289.7" y="252.3" width="2.2" height="2.0" fill="#6e6e6e"/>
<rect x="289.4" y="253.9" width="2.2" height="2.0" fill="#6e6e6e"/>
<rect x="290.8" y="254.2" width="2.2" height="2.0" fill="#6e6e6e"/>
<rect x="291.5" y="253.6" width="2.2" height="2.0" fill="#6e6e6e"/>
<rect x="293.2" y="259.2" width="2.2" height="2.0" fill="#6e6e6e"/>
<rect x="293.6" y="257.0" width="2.2" height="2.0" fill="#6e6e6e"/>
<rect x="295.3" y="252.8" width="2.2" height="2.0" fill="#6e6e6e"/>
<rect x="296.4" y="253.8" width="2.2" height="2.0" fill="#6e6e6e"/>
<rect x="297.2" y="258.3" width="2.2" height="2.0" fill="#6e6e6e"/>
<rect x="298.3" y="256.3" width="2.2" height="2.0" fill="#6e6e6e"/>
<rect x="299.0" y="259.5" width="2.2" height="2.0" fill="#6e6e6e"/>
<rect x="300.0" y="260.8" width="2.2" height="2.0" fill="#6e6e6e"/>
<rect x="301.0" y="258.8" width="2.2" height="2.0" fill="#6e6e6e"/>
<rect x="301.5" y="261.2" width="2.2" height="2.0" fill="#6e6e6e"/>
<rect x="302.9" y="257.1" width="2.2" height="2.0" fill="#6e6e6e"/>
<rect x="303.8" y="263.9" width="2.2" height="2.0" fill="#6e6e6e"/>
<rect x="304.4" y="256.8" width="2.2" height="2.0" fill="#6e6e6e"/>
<rect x="305.4" y="256.1" width="2.2" height="2.0" fill="#6e6e6e"/>
<rect x="306.0" y="260.4" width="2.2" height="2.0" fill="#6e6e6e"/>
<rect x="306.9" y="260.8" width="2.2" height="2.0" fill="#6e6e6e"/>
<rect x="308.2" y="255.7" width="2.2" height="2.0" fill="#6e6e6e"/>
<rect x="309.3" y="256.4" width="2.2" height="2.0" fill="#6e6e6e"/>
<rect x="310.3" y="266.3" width="2.2" height="2.0" fill="#6e6e6e"/>
<rect x="311.0" y="256.3" width="2.2" height="2.0" fill="#6e6e6e"/>
<rect x="311.9" y="261.2" width="2.2" height="2.0" fill="#6e6e6e"/>
<rect x="313.3" y="257.8" width="2.2" height="2.0" fill="#6e6e6e"/>
<rect x="314.1" y="270.9" width="2.2" height="2.0" fill="#6e6e6e"/>
<rect x="314.8" y="268.5" width="2.2" height="2.0" fill="#6e6e6e"/>
<rect x="315.2" y="271.4" width="2.2" height="2.0" fill="#6e6e6e"/>
<rect x="316.4" y="271.4" width="2.2" height="2.0" fill="#6e6e6e"/>
<rect x="317.7" y="259.1" width="2.2" height="2.0" fill="#6e6e6e"/>
<rect x="317.7" y="271.4" width="2.2" height="2.0" fill="#6e6e6e"/>
<rect x="317.8" y="262.5" width="2.2" height="2.0" fill="#6e6e6e"/>
<rect x="319.3" y="259.7" width="2.2" height="2.0" fill="#6e6e6e"/>
<rect x="320.2" y="262.0" width="2.2" height="2.0" fill="#6e6e6e"/>
<rect x="321.0" y="260.2" width="2.2" height="2.0" fill="#6e6e6e"/>
<rect x="321.5" y="273.4" width="2.2" height="2.0" fill="#6e6e6e"/>
<rect x="322.0" y="262.8" width="2.2" height="2.0" fill="#6e6e6e"/>
<rect x="323.1" y="264.1" width="2.2" height="2.0" fill="#6e6e6e"/>
<rect x="323.5" y="262.2" width="2.2" height="2.0" fill="#6e6e6e"/>
<rect x="324.4" y="275.4" width="2.2" height="2.0" fill="#6e6e6e"/>
<rect x="325.7" y="275.1" width="2.2" height="2.0" fill="#6e6e6e"/>
<rect x="326.0" y="273.6" width="2.2" height="2.0" fill="#6e6e6e"/>
<rect x="326.8" y="269.6" width="2.2" height="2.0" fill="#6e6e6e"/>
<rect x="328.1" y="267.0" width="2.2" height="2.0" fill="#6e6e6e"/>
<rect x="329.2" y="270.8" width="2.2" height="2.0" fill="#6e6e6e"/>
<rect x="329.7" y="277.1" width="2.2" height="2.0" fill="#6e6e6e"/>
<rect x="330.0" y="279.5" width="2.2" height="2.0" fill="#6e6e6e"/>
<rect x="331.3" y="269.1" width="2.2" height="2.0" fill="#6e6e6e"/>
<rect x="332.3" y="267.2" width="2.2" height="2.0" fill="#6e6e6e"/>
<rect x="333.3" y="273.2" width="2.2" height="2.0" fill="#6e6e6e"/>
<rect x="333.5" y="277.0" width="2.2" height="2.0" fill="#6e6e6e"/>
<rect x="334.4" y="266.8" width="2.2" height="2.0" fill="#6e6e6e"/>
<rect x="335.5" y="264.9" width="2.2" height="2.0" fill="#6e6e6e"/>
<rect x="336.3" y="269.0" width="2.2" height="2.0" fill="#6e6e6e"/>
<rect x="337.0" y="282.5" width="2.2" height="2.0" fill="#6e6e6e"/>
<rect x="337.7" y="277.2" width="2.2" height="2.0" fill="#6e6e6e"/>
<rect x="338.2" y="265.7" width="2.2" height="2.0" fill="#6e6e6e"/>
<rect x="338.8" y="268.7" width="2.2" height="2.0" fill="#6e6e6e"/>
<rect x="340.2" y="274.2" width="2.2" height="2.0" fill="#6e6e6e"/>
<rect x="340.9" y="283.0" width="2.2" height="2.0" fill="#6e6e6e"/>
<rect x="341.3" y="271.4" width="2.2" height="2.0" fill="#6e6e6e"/>
<rect x="342.6" y="268.1" width="2.2" height="2.0" fill="#6e6e6e"/>
<rect x="342.8" y="274.5" width="2.2" height="2.0" fill="#6e6e6e"/>
<rect x="343.7" y="274.9" width="2.2" height="2.0" fill="#6e6e6e"/>
<rect x="344.6" y="279.4" width="2.2" height="2.0" fill="#6e6e6e"/>
<rect x="345.2" y="272.7" width="2.2" height="2.0" fill="#6e6e6e"/>
<rect x="346.0" y="277.9" width="2.2" height="2.0" fill="#6e6e6e"/>
<rect x="346.4" y="286.6" width="2.2" height="2.0" fill="#6e6e6e"/>
<rect x="347.3" y="272.7" width="2.2" height="2.0" fill="#6e6e6e"/>
<rect x="348.0" y="282.0" width="2.2" height="2.0" fill="#6e6e6e"/>
<rect x="349.6" y="285.0" width="2.2" height="2.0" fill="#6e6e6e"/>
<rect x="350.0" y="275.8" width="2.2" height="2.0" fill="#6e6e6e"/>
<rect x="350.4" y="283.2" width="2.2" height="2.0" fill="#6e6e6e"/>
<rect x="351.8" y="278.1" width="2.2" height="2.0" fill="#6e6e6e"/>
<rect x="352.7" y="280.2" width="2.2" height="2.0" fill="#6e6e6e"/>
<rect x="353.8" y="285.9" width="2.2" height="2.0" fill="#6e6e6e"/>
<rect x="353.9" y="289.5" width="2.2" height="2.0" fill="#6e6e6e"/>
<rect x="354.5" y="282.9" width="2.2" height="2.0" fill="#6e6e6e"/>
<rect x="355.7" y="277.7" width="2.2" height="2.0" fill="#6e6e6e"/>
<rect x="356.2" y="288.3" width="2.2" height="2.0" fill="#6e6e6e"/>
<rect x="357.0" y="284.3" width="2.2" height="2.0" fill="#6e6e6e"/>
<rect x="358.7" y="277.0" width="2.2" height="2.0" fill="#6e6e6e"/>
<rect x="358.6" y="286.1" width="2.2" height="2.0" fill="#6e6e6e"/>
<rect x="359.7" y="287.1" width="2.2" height="2.0" fill="#6e6e6e"/>
<rect x="360.8" y="278.7" width="2.2" height="2.0" fill="#6e6e6e"/>
<rect x="361.1" y="281.5" width="2.2" height="2.0" fill="#6e6e6e"/>
<rect x="361.6" y="293.0" width="2.2" height="2.0" fill="#6e6e6e"/>
<rect x="363.1" y="290.2" width="2.2" height="2.0" fill="#6e6e6e"/>
<rect x="363.2" y="293.0" width="2.2" height="2.0" fill="#6e6e6e"/>
<rect x="364.7" y="286.4" width="2.2" height="2.0" fill="#6e6e6e"/>
<rect x="365.5" y="286.6" width="2.2" height="2.0" fill="#6e6e6e"/>
<rect x="365.7" y="280.6" width="2.2" height="2.0" fill="#6e6e6e"/>
<rect x="366.5" y="279.8" width="2.2" height="2.0" fill="#6e6e6e"/>
<rect x="367.4" y="293.3" width="2.2" height="2.0" fill="#6e6e6e"/>
<rect x="368.6" y="295.5" width="2.2" height="2.0" fill="#6e6e6e"/>
<rect x="369.4" y="285.3" width="2.2" height="2.0" fill="#6e6e6e"/>
<rect x="370.0" y="288.9" width="2.2" height="2.0" fill="#6e6e6e"/>
<rect x="371.0" y="290.9" width="2.2" height="2.0" fill="#6e6e6e"/>
<rect x="371.3" y="293.4" width="2.2" height="2.0" fill="#6e6e6e"/>
<rect x="372.8" y="286.2" width="2.2" height="2.0" fill="#6e6e6e"/>
<rect x="373.1" y="282.8" width="2.2" height="2.0" fill="#6e6e6e"/>
<rect x="373.1" y="287.4" width="2.2" height="2.0" fill="#6e6e6e"/>
<rect x="374.3" y="300.5" width="2.2" height="2.0" fill="#6e6e6e"/>
<rect x="375.0" y="290.4" width="2.2" height="2.0" fill="#6e6e6e"/>
<rect x="375.8" y="291.0" width="2.2" height="2.0" fill="#6e6e6e"/>
<rect x="375.8" y="301.4" width="2.2" height="2.0" fill="#6e6e6e"/>
<rect x="376.9" y="298.4" width="2.2" height="2.0" fill="#6e6e6e"/>
<rect x="377.6" y="303.6" width="2.2" height="2.0" fill="#6e6e6e"/>
<rect x="378.1" y="301.9" width="2.2" height="2.0" fill="#6e6e6e"/>
<rect x="379.1" y="302.7" width="2.2" height="2.0" fill="#6e6e6e"/>
<rect x="379.5" y="301.2" width="2.2" height="2.0" fill="#6e6e6e"/>
<rect x="380.3" y="295.5" width="2.2" height="2.0" fill="#6e6e6e"/>
<rect x="380.7" y="300.9" width="2.2" height="2.0" fill="#6e6e6e"/>
<rect x="381.3" y="305.7" width="2.2" height="2.0" fill="#6e6e6e"/>
<rect x="382.1" y="293.7" width="2.2" height="2.0" fill="#6e6e6e"/>
<rect x="382.7" y="307.0" width="2.2" height="2.0" fill="#6e6e6e"/>
<rect x="383.7" y="296.7" width="2.2" height="2.0" fill="#6e6e6e"/>
<rect x="384.1" y="296.1" width="2.2" height="2.0" fill="#6e6e6e"/>
<rect x="385.4" y="304.9" width="2.2" height="2.0" fill="#6e6e6e"/>
<rect x="386.2" y="307.0" width="2.2" height="2.0" fill="#6e6e6e"/>
<rect x="386.2" y="305.7" width="2.2" height="2.0" fill="#6e6e6e"/>
<rect x="387.2" y="309.4" width="2.2" height="2.0" fill="#6e6e6e"/>
<rect x="388.4" y="311.0" width="2.2" height="2.0" fill="#6e6e6e"/>
<rect x="388.4" y="311.3" width="2.2" height="2.0" fill="#6e6e6e"/>
<rect x="389.9" y="313.0" width="2.2" height="2.0" fill="#6e6e6e"/>
<rect x="389.8" y="304.3" width="2.2" height="2.0" fill="#6e6e6e"/>
<rect x="390.6" y="302.9" width="2.2" height="2.0" fill="#6e6e6e"/>
<rect x="392.0" y="313.3" width="2.2" height="2.0" fill="#6e6e6e"/>
<rect x="392.5" y="314.1" width="2.2" height="2.0" fill="#6e6e6e"/>
<rect x="393.2" y="308.2" width="2.2" height="2.0" fill="#6e6e6e"/>
<rect x="393.1" y="306.4" width="2.2" height="2.0" fill="#6e6e6e"/>
<rect x="394.5" y="308.4" width="2.2" height="2.0" fill="#6e6e6e"/>
<rect x="394.8" y="311.7" width="2.2" height="2.0" fill="#6e6e6e"/>
<rect x="395.2" y="310.4" width="2.2" height="2.0" fill="#6e6e6e"/>
<rect x="396.2" y="316.4" width="2.2" height="2.0" fill="#6e6e6e"/>
<rect x="397.0" y="312.6" width="2.2" height="2.0" fill="#6e6e6e"/>
<rect x="398.3" y="315.4" width="2.2" height="2.0" fill="#6e6e6e"/>
<rect x="398.9" y="317.3" width="2.2" height="2.0" fill="#6e6e6e"/>
<rect x="398.9" y="315.7" width="2.2" height="2.0" fill="#6e6e6e"/>
<rect x="400.0" y="320.3" width="2.2" height="2.0" fill="#6e6e6e"/>
<rect x="400.6" y="320.2" width="2.2" height="2.0" fill="#6e6e6e"/>
<rect x="401.5" y="315.8" width="2.2" height="2.0" fill="#6e6e6e"/>
<rect x="402.6" y="315.2" width="2.2" height="2.0" fill="#6e6e6e"/>
<rect x="403.3" y="316.8" width="2.2" height="2.0" fill="#6e6e6e"/>
<rect x="403.2" y="317.8" width="2.2" height="2.0" fill="#6e6e6e"/>
<rect x="404.2" y="325.8" width="2.2" height="2.0" fill="#6e6e6e"/>
<rect x="404.1" y="321.6" width="2.2" height="2.0" fill="#6e6e6e"/>
<rect x="405.4" y="325.2" width="2.2" height="2.0" fill="#6e6e6e"/>
<rect x="405.8" y="323.0" width="2.2" height="2.0" fill="#6e6e6e"/>
<rect x="406.7" y="326.9" width="2.2" height="2.0" fill="#6e6e6e"/>
<rect x="407.3" y="328.5" width="2.2" height="2.0" fill="#6e6e6e"/>
<rect x="408.1" y="322.5" width="2.2" height="2.0" fill="#6e6e6e"/>
<rect x="409.2" y="325.8" width="2.2" height="2.0" fill="#6e6e6e"/>
<rect x="409.4" y="327.7" width="2.2" height="2.0" fill="#6e6e6e"/>
<rect x="410.1" y="329.7" width="2.2" height="2.0" fill="#6e6e6e"/>
<rect x="411.4" y="330.3" width="2.2" height="2.0" fill="#6e6e6e"/>
<rect x="412.1" y="327.3" width="2.2" height="2.0" fill="#6e6e6e"/>
<rect x="412.6" y="328.3" width="2.2" height="2.0" fill="#6e6e6e"/>
<rect x="413.8" y="326.5" width="2.2" height="2.0" fill="#6e6e6e"/>
<rect x="414.5" y="326.7" width="2.2" height="2.0" fill="#6e6e6e"/>
<rect x="414.0" y="328.8" width="2.2" height="2.0" fill="#6e6e6e"/>
<rect x="415.3" y="331.5" width="2.2" height="2.0" fill="#6e6e6e"/>
<rect x="415.5" y="335.2" width="2.2" height="2.0" fill="#6e6e6e"/>
<rect x="415.9" y="332.7" width="2.2" height="2.0" fill="#6e6e6e"/>
<rect x="416.9" y="335.7" width="2.2" height="2.0" fill="#6e6e6e"/>
<rect x="417.7" y="335.6" width="2.2" height="2.0" fill="#6e6e6e"/>
<rect x="418.0" y="334.1" width="2.2" height="2.0" fill="#6e6e6e"/>
<rect x="418.4" y="338.5" width="2.2" height="2.0" fill="#6e6e6e"/>
<rect x="419.6" y="338.5" width="2.2" height="2.0" fill="#6e6e6e"/>
<rect x="419.7" y="337.2" width="2.2" height="2.0" fill="#6e6e6e"/>
<rect x="420.9" y="338.9" width="2.2" height="2.0" fill="#6e6e6e"/>
<rect x="420.9" y="338.9" width="2.2" height="2.0" fill="#6e6e6e"/>
<rect x="422.3" y="338.3" width="2.2" height="2.0" fill="#6e6e6e"/>
<rect x="422.3" y="339.5" width="2.2" height="2.0" fill="#6e6e6e"/>
<rect x="423.1" y="343.2" width="2.2" height="2.0" fill="#6e6e6e"/>
<rect x="423.3" y="339.7" width="2.2" height="2.0" fill="#6e6e6e"/>
<rect x="424.2" y="341.4" width="2.2" height="2.0" fill="#6e6e6e"/>
<rect x="425.2" y="341.1" width="2.2" height="2.0" fill="#6e6e6e"/>
<rect x="425.8" y="342.0" width="2.2" height="2.0" fill="#6e6e6e"/>
<rect x="427.2" y="345.5" width="2.2" height="2.0" fill="#6e6e6e"/>
<rect x="427.0" y="347.3" width="2.2" height="2.0" fill="#6e6e6e"/>
<rect x="427.8" y="344.9" width="2.2" height="2.0" fill="#6e6e6e"/>
<rect x="429.4" y="347.5" width="2.2" height="2.0" fill="#6e6e6e"/>
<rect x="429.8" y="346.4" width="2.2" height="2.0" fill="#6e6e6e"/>
<rect x="430.0" y="347.9" width="2.2" height="2.0" fill="#6e6e6e"/>
<rect x="430.6" y="346.6" width="2.2" height="2.0" fill="#6e6e6e"/>
<rect x="431.6" y="346.5" width="2.2" height="2.0" fill="#6e6e6e"/>
<rect x="432.3" y="350.3" width="2.2" height="2.0" fill="#6e6e6e"/>
<rect x="433.3" y="349.7" width="2.2" height="2.0" fill="#6e6e6e"/>
<rect x="433.4" y="349.7" width="2.2" height="2.0" fill="#6e6e6e"/>
<rect x="433.6" y="350.8" width="2.2" height="2.0" fill="#6e6e6e"/>
<rect x="434.6" y="351.9" width="2.2" height="2.0" fill="#6e6e6e"/>
<rect x="435.8" y="351.3" width="2.2" height="2.0" fill="#6e6e6e"/>
<rect x="436.1" y="353.0" width="2.2" height="2.0" fill="#6e6e6e"/>
<rect x="436.7" y="351.7" width="2.2" height="2.0" fill="#6e6e6e"/>
<rect x="437.7" y="354.5" width="2.2" height="2.0" fill="#6e6e6e"/>
<rect x="438.4" y="354.5" width="2.2" height="2.0" fill="#6e6e6e"/>
<rect x="439.2" y="355.0" width="2.2" height="2.0" fill="#6e6e6e"/>
<rect x="439.7" y="354.8" width="2.2" height="2.0" fill="#6e6e6e"/>
<rect x="440.0" y="355.9" width="2.2" height="2.0" fill="#6e6e6e"/>
<rect x="440.5" y="355.9" width="2.2" height="2.0" fill="#6e6e6e"/>
<rect x="441.9" y="357.3" width="2.2" height="2.0" fill="#6e6e6e"/>
<rect x="442.4" y="356.6" width="2.2" height="2.0" fill="#6e6e6e"/>
<rect x="442.9" y="357.7" width="2.2" height="2.0" fill="#6e6e6e"/>
<path d="M104.0,354.5 L108.6,350.3 L113.3,343.6 L118.0,337.0 L122.8,328.4 L127.6,319.8 L131.4,313.2 L134.2,306.5 L139.0,300.8 L142.8,293.2 L147.5,283.7 L151.3,277.1 L155.1,270.4 L160.8,264.7 L165.6,260.0 L170.3,255.2 L176.0,251.4 L182.5,248.8 L189.2,247.3 L196.9,246.9 L210.4,247.3 L264.0,247.0" fill="none" stroke="#333" stroke-width="1.5" stroke-linecap="butt" stroke-dasharray="1.8 4.8"/>
<path d="M273.8,241.5 L283.0,244.2 L300.0,244.7 L320.0,244.7 L340.8,246.5 L370.0,245.4 L379.2,246.5 L387.3,250.0 L393.0,253.5 L398.8,259.2 L403.5,267.3 L408.0,275.4 L412.7,283.5 L417.3,292.7 L420.8,302.0 L425.4,313.5 L430.0,325.0 L435.8,334.2 L441.5,343.5 L445.0,349.2" fill="none" stroke="#333" stroke-width="1.5" stroke-linecap="butt" stroke-dasharray="1.8 5.2"/>
<circle cx="96.5" cy="356.0" r="3.1" fill="#000"/>
<circle cx="101.0" cy="355.5" r="3.1" fill="#000"/>
<circle cx="105.5" cy="355.0" r="3.1" fill="#000"/>
<circle cx="109.0" cy="354.5" r="3.1" fill="#000"/>
<circle cx="113.0" cy="354.0" r="3.1" fill="#000"/>
<circle cx="117.5" cy="353.5" r="3.1" fill="#000"/>
<circle cx="122.0" cy="353.5" r="3.1" fill="#000"/>
<circle cx="126.0" cy="353.5" r="3.1" fill="#000"/>
<circle cx="130.0" cy="353.5" r="3.1" fill="#000"/>
<circle cx="136.0" cy="351.0" r="3.1" fill="#000"/>
<circle cx="140.5" cy="351.0" r="3.1" fill="#000"/>
<circle cx="145.0" cy="351.0" r="3.1" fill="#000"/>
<circle cx="149.5" cy="351.0" r="3.1" fill="#000"/>
<circle cx="154.0" cy="351.0" r="3.1" fill="#000"/>
<circle cx="158.5" cy="351.0" r="3.1" fill="#000"/>
<circle cx="162.0" cy="351.0" r="3.1" fill="#000"/>
<circle cx="164.0" cy="336.0" r="3.1" fill="#000"/>
<circle cx="168.5" cy="336.0" r="3.1" fill="#000"/>
<circle cx="172.5" cy="336.0" r="3.1" fill="#000"/>
<circle cx="178.4" cy="336.0" r="3.1" fill="#000"/>
<circle cx="182.9" cy="329.2" r="3.1" fill="#000"/>
<circle cx="184.6" cy="329.2" r="3.1" fill="#000"/>
<circle cx="188.3" cy="310.4" r="3.1" fill="#000"/>
<circle cx="194.8" cy="264.8" r="3.1" fill="#000"/>
<circle cx="198.7" cy="261.9" r="3.1" fill="#000"/>
<circle cx="203.5" cy="261.9" r="3.1" fill="#000"/>
<circle cx="207.3" cy="261.9" r="3.1" fill="#000"/>
<circle cx="210.2" cy="261.9" r="3.1" fill="#000"/>
<circle cx="218.8" cy="244.2" r="3.1" fill="#000"/>
<circle cx="222.7" cy="244.2" r="3.1" fill="#000"/>
<circle cx="226.5" cy="244.2" r="3.1" fill="#000"/>
<circle cx="230.4" cy="244.2" r="3.1" fill="#000"/>
<circle cx="234.2" cy="244.2" r="3.1" fill="#000"/>
<circle cx="243.8" cy="244.2" r="3.1" fill="#000"/>
<circle cx="247.7" cy="244.2" r="3.1" fill="#000"/>
<circle cx="251.5" cy="244.2" r="3.1" fill="#000"/>
<circle cx="257.3" cy="244.2" r="3.1" fill="#000"/>
<circle cx="262.1" cy="244.2" r="3.1" fill="#000"/>
<circle cx="277.5" cy="246.9" r="3.1" fill="#000"/>
<circle cx="278.0" cy="253.0" r="3.1" fill="#000"/>
<circle cx="279.6" cy="302.4" r="3.1" fill="#000"/>
<circle cx="285.8" cy="307.0" r="3.1" fill="#000"/>
<circle cx="293.8" cy="338.3" r="3.1" fill="#000"/>
<circle cx="302.7" cy="338.3" r="3.1" fill="#000"/>
<circle cx="308.8" cy="338.8" r="3.1" fill="#000"/>
<circle cx="314.6" cy="339.8" r="3.1" fill="#000"/>
<circle cx="322.3" cy="341.2" r="3.1" fill="#000"/>
<circle cx="326.2" cy="341.2" r="3.1" fill="#000"/>
<circle cx="330.4" cy="341.2" r="3.1" fill="#000"/>
<circle cx="334.8" cy="342.7" r="3.1" fill="#000"/>
<circle cx="338.7" cy="343.0" r="3.1" fill="#000"/>
<circle cx="342.5" cy="346.9" r="3.1" fill="#000"/>
<circle cx="346.3" cy="346.9" r="3.1" fill="#000"/>
<circle cx="358.8" cy="347.9" r="3.1" fill="#000"/>
<circle cx="404.2" cy="348.1" r="3.1" fill="#000"/>
<circle cx="407.4" cy="348.1" r="3.1" fill="#000"/>
<circle cx="422.6" cy="347.6" r="3.1" fill="#000"/>
<circle cx="424.9" cy="350.9" r="3.1" fill="#000"/>
<circle cx="435.8" cy="350.9" r="3.1" fill="#000"/>
<circle cx="440.4" cy="350.9" r="3.1" fill="#000"/>
<circle cx="445.0" cy="350.9" r="3.1" fill="#000"/>
<line x1="43.8" y1="460.6" x2="43.8" y2="595.7" stroke="#2b2b2b" stroke-width="1.6"/>
<line x1="43.099999999999994" y1="595" x2="490.3" y2="595" stroke="#2b2b2b" stroke-width="1.6"/>
<line x1="39.8" y1="595.0" x2="43.8" y2="595.0" stroke="#2b2b2b" stroke-width="1.4"/>
<text x="35.599999999999994" y="598.9" text-anchor="end" class="n">0</text>
<line x1="39.8" y1="568.3" x2="43.8" y2="568.3" stroke="#2b2b2b" stroke-width="1.4"/>
<text x="35.599999999999994" y="572.1999999999999" text-anchor="end" class="n">0.2</text>
<line x1="39.8" y1="541.5" x2="43.8" y2="541.5" stroke="#2b2b2b" stroke-width="1.4"/>
<text x="35.599999999999994" y="545.4" text-anchor="end" class="n">0.4</text>
<line x1="39.8" y1="514.8" x2="43.8" y2="514.8" stroke="#2b2b2b" stroke-width="1.4"/>
<text x="35.599999999999994" y="518.6999999999999" text-anchor="end" class="n">0.6</text>
<line x1="39.8" y1="488.0" x2="43.8" y2="488.0" stroke="#2b2b2b" stroke-width="1.4"/>
<text x="35.599999999999994" y="491.9" text-anchor="end" class="n">0.8</text>
<line x1="39.8" y1="461.3" x2="43.8" y2="461.3" stroke="#2b2b2b" stroke-width="1.4"/>
<text x="35.599999999999994" y="465.2" text-anchor="end" class="n">1</text>
<line x1="43.8" y1="595" x2="43.8" y2="598.6" stroke="#2b2b2b" stroke-width="1.4"/>
<text x="43.8" y="610.5" text-anchor="middle" class="n">232700000</text>
<line x1="132.9" y1="595" x2="132.9" y2="598.6" stroke="#2b2b2b" stroke-width="1.4"/>
<text x="132.9" y="610.5" text-anchor="middle" class="n">232800000</text>
<line x1="222.1" y1="595" x2="222.1" y2="598.6" stroke="#2b2b2b" stroke-width="1.4"/>
<text x="222.1" y="610.5" text-anchor="middle" class="n">232900000</text>
<line x1="311.3" y1="595" x2="311.3" y2="598.6" stroke="#2b2b2b" stroke-width="1.4"/>
<text x="311.3" y="610.5" text-anchor="middle" class="n">233000000</text>
<line x1="400.4" y1="595" x2="400.4" y2="598.6" stroke="#2b2b2b" stroke-width="1.4"/>
<text x="400.4" y="610.5" text-anchor="middle" class="n">233100000</text>
<line x1="489.6" y1="595" x2="489.6" y2="598.6" stroke="#2b2b2b" stroke-width="1.4"/>
<text x="489.6" y="610.5" text-anchor="middle" class="n">233200000</text>
<text x="44.5" y="430.3" class="lab" text-anchor="start">c)</text>
<line x1="155" y1="477.7" x2="87.26" y2="477.7" stroke="#111" stroke-width="1.4"/>
<path d="M84.5,477.7 L89.1,475.59999999999997 L89.1,479.8 Z" fill="#111"/>
<text x="101" y="472.5" class="g" text-anchor="start">GNG4</text>
<line x1="379.6" y1="447.2" x2="192.66" y2="447.2" stroke="#111" stroke-width="1.7"/>
<path d="M189.9,447.2 L194.5,445.0 L194.5,449.4 Z" fill="#111"/>
<text x="223" y="443.8" class="gb" text-anchor="middle">LYST-1</text>
<line x1="400.8" y1="432.1" x2="284.26" y2="432.1" stroke="#111" stroke-width="1.7"/>
<path d="M281.5,432.1 L286.1,429.90000000000003 L286.1,434.3 Z" fill="#111"/>
<text x="361.7" y="427.7" class="gb" text-anchor="middle">LYST-2</text>
<rect x="267.7" y="466.9" width="10.0" height="1.7" fill="#808080"/>
<rect x="264.9" y="473.0" width="7.2" height="1.7" fill="#808080"/>
<rect x="255.8" y="479.1" width="1.6" height="1.7" fill="#808080"/>
<rect x="260.3" y="479.1" width="7.4" height="1.7" fill="#808080"/>
<rect x="253.9" y="485.8" width="1.6" height="1.7" fill="#808080"/>
<rect x="258.3" y="485.5" width="4.4" height="1.7" fill="#808080"/>
<rect x="256.9" y="489.6" width="1.6" height="1.7" fill="#808080"/>
<rect x="253.3" y="495.8" width="2.8" height="1.7" fill="#808080"/>
<rect x="249.4" y="500.8" width="4.4" height="1.7" fill="#808080"/>
<rect x="251.9" y="502.9" width="1.6" height="1.7" fill="#808080"/>
<rect x="250.3" y="507.9" width="1.6" height="1.7" fill="#808080"/>
<rect x="245.0" y="511.1" width="4.4" height="1.7" fill="#808080"/>
<rect x="244.7" y="513.4" width="1.6" height="1.7" fill="#808080"/>
<rect x="247.5" y="515.1" width="1.6" height="1.7" fill="#808080"/>
<rect x="88.0" y="589.6" width="2.6" height="1.7" fill="#777"/>
<rect x="89.1" y="590.0" width="2.6" height="1.7" fill="#777"/>
<rect x="89.6" y="589.7" width="2.6" height="1.7" fill="#777"/>
<rect x="91.2" y="589.5" width="2.6" height="1.7" fill="#777"/>
<rect x="91.9" y="589.9" width="2.6" height="1.7" fill="#777"/>
<rect x="92.4" y="589.5" width="2.6" height="1.7" fill="#777"/>
<rect x="93.6" y="589.7" width="2.6" height="1.7" fill="#777"/>
<rect x="95.3" y="589.5" width="2.6" height="1.7" fill="#777"/>
<rect x="95.5" y="589.5" width="2.6" height="1.7" fill="#777"/>
<rect x="96.9" y="589.6" width="2.6" height="1.7" fill="#777"/>
<rect x="97.9" y="589.5" width="2.6" height="1.7" fill="#777"/>
<rect x="99.2" y="589.3" width="2.6" height="1.7" fill="#777"/>
<rect x="99.8" y="589.6" width="2.6" height="1.7" fill="#777"/>
<rect x="100.6" y="589.4" width="2.6" height="1.7" fill="#777"/>
<rect x="101.8" y="589.4" width="2.6" height="1.7" fill="#777"/>
<rect x="102.5" y="589.6" width="2.6" height="1.7" fill="#777"/>
<rect x="103.7" y="588.8" width="2.6" height="1.7" fill="#777"/>
<rect x="104.7" y="589.1" width="2.6" height="1.7" fill="#777"/>
<rect x="105.4" y="589.0" width="2.6" height="1.7" fill="#777"/>
<rect x="106.8" y="589.2" width="2.6" height="1.7" fill="#777"/>
<rect x="107.7" y="588.9" width="2.6" height="1.7" fill="#777"/>
<rect x="108.6" y="589.2" width="2.6" height="1.7" fill="#777"/>
<rect x="110.3" y="589.0" width="2.6" height="1.7" fill="#777"/>
<rect x="110.6" y="589.2" width="2.6" height="1.7" fill="#777"/>
<rect x="110.9" y="588.7" width="2.6" height="1.7" fill="#777"/>
<rect x="111.6" y="589.1" width="2.6" height="1.7" fill="#777"/>
<rect x="113.3" y="589.0" width="2.6" height="1.7" fill="#777"/>
<rect x="114.0" y="588.9" width="2.6" height="1.7" fill="#777"/>
<rect x="114.7" y="589.2" width="2.6" height="1.7" fill="#777"/>
<rect x="115.8" y="588.9" width="2.6" height="1.7" fill="#777"/>
<rect x="117.3" y="589.0" width="2.6" height="1.7" fill="#777"/>
<rect x="118.0" y="588.5" width="2.6" height="1.7" fill="#777"/>
<rect x="119.0" y="588.3" width="2.6" height="1.7" fill="#777"/>
<rect x="120.3" y="588.4" width="2.6" height="1.7" fill="#777"/>
<rect x="121.3" y="588.3" width="2.6" height="1.7" fill="#777"/>
<rect x="121.9" y="588.3" width="2.6" height="1.7" fill="#777"/>
<rect x="122.9" y="588.1" width="2.6" height="1.7" fill="#777"/>
<rect x="123.5" y="588.6" width="2.6" height="1.7" fill="#777"/>
<rect x="124.8" y="588.1" width="2.6" height="1.7" fill="#777"/>
<rect x="125.8" y="588.3" width="2.6" height="1.7" fill="#777"/>
<rect x="126.9" y="588.4" width="2.6" height="1.7" fill="#777"/>
<rect x="128.1" y="588.1" width="2.6" height="1.7" fill="#777"/>
<rect x="129.4" y="588.5" width="2.6" height="1.7" fill="#777"/>
<rect x="129.5" y="588.4" width="2.6" height="1.7" fill="#777"/>
<rect x="131.4" y="588.4" width="2.6" height="1.7" fill="#777"/>
<rect x="131.6" y="588.4" width="2.6" height="1.7" fill="#777"/>
<rect x="133.1" y="587.5" width="2.6" height="1.7" fill="#777"/>
<rect x="133.5" y="588.4" width="2.6" height="1.7" fill="#777"/>
<rect x="135.1" y="587.7" width="2.6" height="1.7" fill="#777"/>
<rect x="135.6" y="587.5" width="2.6" height="1.7" fill="#777"/>
<rect x="136.1" y="588.1" width="2.6" height="1.7" fill="#777"/>
<rect x="137.2" y="587.4" width="2.6" height="1.7" fill="#777"/>
<rect x="138.8" y="587.9" width="2.6" height="1.7" fill="#777"/>
<rect x="139.0" y="587.9" width="2.6" height="1.7" fill="#777"/>
<rect x="140.5" y="587.7" width="2.6" height="1.7" fill="#777"/>
<rect x="141.5" y="587.7" width="2.6" height="1.7" fill="#777"/>
<rect x="142.7" y="587.5" width="2.6" height="1.7" fill="#777"/>
<rect x="143.1" y="587.3" width="2.6" height="1.7" fill="#777"/>
<rect x="144.4" y="587.2" width="2.6" height="1.7" fill="#777"/>
<rect x="145.3" y="587.3" width="2.6" height="1.7" fill="#777"/>
<rect x="146.4" y="586.5" width="2.6" height="1.7" fill="#777"/>
<rect x="147.1" y="586.2" width="2.6" height="1.7" fill="#777"/>
<rect x="148.3" y="586.0" width="2.6" height="1.7" fill="#777"/>
<rect x="149.3" y="586.0" width="2.6" height="1.7" fill="#777"/>
<rect x="150.3" y="586.3" width="2.6" height="1.7" fill="#777"/>
<rect x="151.3" y="586.6" width="2.6" height="1.7" fill="#777"/>
<rect x="151.8" y="586.5" width="2.6" height="1.7" fill="#777"/>
<rect x="153.3" y="586.1" width="2.6" height="1.7" fill="#777"/>
<rect x="154.5" y="586.3" width="2.6" height="1.7" fill="#777"/>
<rect x="155.2" y="585.7" width="2.6" height="1.7" fill="#777"/>
<rect x="156.7" y="585.1" width="2.6" height="1.7" fill="#777"/>
<rect x="157.3" y="585.7" width="2.6" height="1.7" fill="#777"/>
<rect x="157.7" y="585.4" width="2.6" height="1.7" fill="#777"/>
<rect x="159.3" y="585.4" width="2.6" height="1.7" fill="#777"/>
<rect x="159.9" y="585.2" width="2.6" height="1.7" fill="#777"/>
<rect x="161.0" y="584.2" width="2.6" height="1.7" fill="#777"/>
<rect x="162.4" y="583.3" width="2.6" height="1.7" fill="#777"/>
<rect x="163.2" y="583.8" width="2.6" height="1.7" fill="#777"/>
<rect x="163.8" y="583.8" width="2.6" height="1.7" fill="#777"/>
<rect x="164.8" y="582.9" width="2.6" height="1.7" fill="#777"/>
<rect x="166.0" y="583.0" width="2.6" height="1.7" fill="#777"/>
<rect x="166.7" y="582.1" width="2.6" height="1.7" fill="#777"/>
<rect x="167.9" y="582.0" width="2.6" height="1.7" fill="#777"/>
<rect x="169.3" y="581.2" width="2.6" height="1.7" fill="#777"/>
<rect x="170.4" y="581.0" width="2.6" height="1.7" fill="#777"/>
<rect x="171.0" y="580.5" width="2.6" height="1.7" fill="#777"/>
<rect x="172.1" y="581.3" width="2.6" height="1.7" fill="#777"/>
<rect x="173.3" y="580.7" width="2.6" height="1.7" fill="#777"/>
<rect x="174.0" y="579.6" width="2.6" height="1.7" fill="#777"/>
<rect x="175.1" y="579.8" width="2.6" height="1.7" fill="#777"/>
<rect x="176.6" y="579.8" width="2.6" height="1.7" fill="#777"/>
<rect x="177.1" y="579.4" width="2.6" height="1.7" fill="#777"/>
<rect x="179.1" y="578.7" width="2.6" height="1.7" fill="#777"/>
<rect x="178.2" y="578.3" width="2.6" height="1.7" fill="#777"/>
<rect x="179.4" y="577.8" width="2.6" height="1.7" fill="#777"/>
<rect x="181.5" y="578.5" width="2.6" height="1.7" fill="#777"/>
<rect x="182.5" y="578.8" width="2.6" height="1.7" fill="#777"/>
<rect x="184.0" y="578.2" width="2.6" height="1.7" fill="#777"/>
<rect x="184.9" y="578.1" width="2.6" height="1.7" fill="#777"/>
<rect x="185.9" y="577.9" width="2.6" height="1.7" fill="#777"/>
<rect x="187.0" y="576.2" width="2.6" height="1.7" fill="#777"/>
<rect x="188.1" y="576.1" width="2.6" height="1.7" fill="#777"/>
<rect x="189.3" y="574.4" width="2.6" height="1.7" fill="#777"/>
<rect x="189.9" y="573.4" width="2.6" height="1.7" fill="#777"/>
<rect x="191.7" y="575.2" width="2.6" height="1.7" fill="#777"/>
<rect x="192.8" y="572.8" width="2.6" height="1.7" fill="#777"/>
<rect x="193.0" y="574.0" width="2.6" height="1.7" fill="#777"/>
<rect x="194.0" y="571.5" width="2.6" height="1.7" fill="#777"/>
<rect x="195.0" y="571.1" width="2.6" height="1.7" fill="#777"/>
<rect x="196.2" y="570.2" width="2.6" height="1.7" fill="#777"/>
<rect x="197.8" y="571.1" width="2.6" height="1.7" fill="#777"/>
<rect x="197.3" y="569.8" width="2.6" height="1.7" fill="#777"/>
<rect x="198.5" y="567.2" width="2.6" height="1.7" fill="#777"/>
<rect x="200.6" y="567.9" width="2.6" height="1.7" fill="#777"/>
<rect x="202.0" y="566.4" width="2.6" height="1.7" fill="#777"/>
<rect x="202.4" y="565.1" width="2.6" height="1.7" fill="#777"/>
<rect x="204.3" y="566.3" width="2.6" height="1.7" fill="#777"/>
<rect x="205.2" y="564.1" width="2.6" height="1.7" fill="#777"/>
<rect x="206.0" y="561.6" width="2.6" height="1.7" fill="#777"/>
<rect x="207.7" y="561.1" width="2.6" height="1.7" fill="#777"/>
<rect x="208.7" y="559.4" width="2.6" height="1.7" fill="#777"/>
<rect x="209.2" y="561.6" width="2.6" height="1.7" fill="#777"/>
<rect x="210.7" y="561.5" width="2.6" height="1.7" fill="#777"/>
<rect x="212.1" y="560.0" width="2.6" height="1.7" fill="#777"/>
<rect x="213.3" y="555.5" width="2.6" height="1.7" fill="#777"/>
<rect x="215.3" y="555.1" width="2.6" height="1.7" fill="#777"/>
<rect x="216.8" y="553.6" width="2.6" height="1.7" fill="#777"/>
<rect x="217.3" y="555.2" width="2.6" height="1.7" fill="#777"/>
<rect x="219.0" y="553.9" width="2.6" height="1.7" fill="#777"/>
<rect x="220.1" y="548.6" width="2.6" height="1.7" fill="#777"/>
<rect x="221.1" y="549.8" width="2.6" height="1.7" fill="#777"/>
<rect x="221.7" y="549.8" width="2.6" height="1.7" fill="#777"/>
<rect x="222.8" y="548.4" width="2.6" height="1.7" fill="#777"/>
<rect x="224.7" y="542.0" width="2.6" height="1.7" fill="#777"/>
<rect x="225.2" y="543.9" width="2.6" height="1.7" fill="#777"/>
<rect x="227.3" y="539.2" width="2.6" height="1.7" fill="#777"/>
<rect x="228.0" y="540.6" width="2.6" height="1.7" fill="#777"/>
<rect x="228.8" y="540.0" width="2.6" height="1.7" fill="#777"/>
<rect x="230.3" y="534.0" width="2.6" height="1.7" fill="#777"/>
<rect x="231.4" y="534.6" width="2.6" height="1.7" fill="#777"/>
<rect x="232.6" y="533.0" width="2.6" height="1.7" fill="#777"/>
<rect x="233.7" y="531.7" width="2.6" height="1.7" fill="#777"/>
<rect x="235.3" y="528.9" width="2.6" height="1.7" fill="#777"/>
<rect x="236.2" y="526.7" width="2.6" height="1.7" fill="#777"/>
<rect x="237.3" y="526.4" width="2.6" height="1.7" fill="#777"/>
<rect x="239.1" y="524.1" width="2.6" height="1.7" fill="#777"/>
<rect x="239.8" y="520.2" width="2.6" height="1.7" fill="#777"/>
<rect x="240.6" y="520.7" width="2.6" height="1.7" fill="#777"/>
<rect x="242.6" y="517.6" width="2.6" height="1.7" fill="#777"/>
<rect x="300.1" y="466.6" width="12.0" height="1.7" fill="#808080"/>
<rect x="307.3" y="472.6" width="8.7" height="1.7" fill="#808080"/>
<rect x="306.5" y="478.9" width="1.6" height="1.7" fill="#808080"/>
<rect x="312.0" y="478.9" width="1.6" height="1.7" fill="#808080"/>
<rect x="317.1" y="478.9" width="1.6" height="1.7" fill="#808080"/>
<rect x="314.0" y="484.9" width="9.7" height="1.7" fill="#808080"/>
<rect x="319.8" y="490.1" width="2.9" height="1.7" fill="#808080"/>
<rect x="331.5" y="496.4" width="1.6" height="1.7" fill="#808080"/>
<rect x="322.9" y="501.8" width="1.6" height="1.7" fill="#808080"/>
<rect x="325.7" y="501.8" width="1.6" height="1.7" fill="#808080"/>
<rect x="331.5" y="501.8" width="1.6" height="1.7" fill="#808080"/>
<rect x="331.7" y="496.6" width="2.0" height="1.8" fill="#808080"/>
<rect x="338.0" y="506.8" width="2.0" height="1.8" fill="#808080"/>
<rect x="342.7" y="512.0" width="2.0" height="1.8" fill="#808080"/>
<rect x="345.5" y="525.0" width="2.0" height="1.8" fill="#808080"/>
<rect x="355.7" y="533.9" width="2.0" height="1.8" fill="#808080"/>
<rect x="341.8" y="522.9" width="2.0" height="1.8" fill="#808080"/>
<rect x="347.6" y="531.9" width="2.0" height="1.8" fill="#808080"/>
<rect x="335.7" y="527.0" width="2.0" height="1.8" fill="#808080"/>
<rect x="339.8" y="528.1" width="2.0" height="1.8" fill="#808080"/>
<rect x="364.0" y="547.1" width="2.0" height="1.8" fill="#808080"/>
<rect x="372.0" y="560.6" width="2.0" height="1.8" fill="#808080"/>
<rect x="349.0" y="543.7" width="2.0" height="1.8" fill="#808080"/>
<rect x="322.5" y="502.4" width="2.6" height="1.7" fill="#777"/>
<rect x="324.2" y="503.9" width="2.6" height="1.7" fill="#777"/>
<rect x="324.7" y="503.6" width="2.6" height="1.7" fill="#777"/>
<rect x="324.6" y="505.1" width="2.6" height="1.7" fill="#777"/>
<rect x="325.4" y="505.6" width="2.6" height="1.7" fill="#777"/>
<rect x="326.4" y="507.2" width="2.6" height="1.7" fill="#777"/>
<rect x="327.4" y="506.6" width="2.6" height="1.7" fill="#777"/>
<rect x="327.4" y="507.5" width="2.6" height="1.7" fill="#777"/>
<rect x="328.6" y="509.4" width="2.6" height="1.7" fill="#777"/>
<rect x="329.8" y="511.2" width="2.6" height="1.7" fill="#777"/>
<rect x="329.8" y="512.0" width="2.6" height="1.7" fill="#777"/>
<rect x="331.0" y="512.8" width="2.6" height="1.7" fill="#777"/>
<rect x="331.5" y="511.9" width="2.6" height="1.7" fill="#777"/>
<rect x="332.5" y="514.6" width="2.6" height="1.7" fill="#777"/>
<rect x="333.1" y="515.9" width="2.6" height="1.7" fill="#777"/>
<rect x="333.4" y="513.9" width="2.6" height="1.7" fill="#777"/>
<rect x="334.3" y="517.4" width="2.6" height="1.7" fill="#777"/>
<rect x="334.7" y="518.1" width="2.6" height="1.7" fill="#777"/>
<rect x="336.1" y="517.0" width="2.6" height="1.7" fill="#777"/>
<rect x="335.8" y="518.9" width="2.6" height="1.7" fill="#777"/>
<rect x="336.2" y="517.9" width="2.6" height="1.7" fill="#777"/>
<rect x="336.4" y="521.1" width="2.6" height="1.7" fill="#777"/>
<rect x="337.4" y="520.9" width="2.6" height="1.7" fill="#777"/>
<rect x="337.2" y="523.3" width="2.6" height="1.7" fill="#777"/>
<rect x="338.4" y="521.8" width="2.6" height="1.7" fill="#777"/>
<rect x="338.6" y="525.6" width="2.6" height="1.7" fill="#777"/>
<rect x="339.1" y="524.2" width="2.6" height="1.7" fill="#777"/>
<rect x="339.2" y="525.4" width="2.6" height="1.7" fill="#777"/>
<rect x="339.4" y="524.5" width="2.6" height="1.7" fill="#777"/>
<rect x="339.9" y="527.6" width="2.6" height="1.7" fill="#777"/>
<rect x="340.6" y="527.9" width="2.6" height="1.7" fill="#777"/>
<rect x="341.2" y="528.5" width="2.6" height="1.7" fill="#777"/>
<rect x="341.3" y="527.1" width="2.6" height="1.7" fill="#777"/>
<rect x="342.6" y="529.5" width="2.6" height="1.7" fill="#777"/>
<rect x="342.2" y="531.5" width="2.6" height="1.7" fill="#777"/>
<rect x="343.3" y="530.3" width="2.6" height="1.7" fill="#777"/>
<rect x="343.6" y="532.0" width="2.6" height="1.7" fill="#777"/>
<rect x="344.0" y="531.5" width="2.6" height="1.7" fill="#777"/>
<rect x="343.9" y="536.7" width="2.6" height="1.7" fill="#777"/>
<rect x="345.1" y="535.1" width="2.6" height="1.7" fill="#777"/>
<rect x="345.1" y="535.0" width="2.6" height="1.7" fill="#777"/>
<rect x="345.6" y="536.7" width="2.6" height="1.7" fill="#777"/>
<rect x="346.1" y="539.2" width="2.6" height="1.7" fill="#777"/>
<rect x="346.3" y="541.0" width="2.6" height="1.7" fill="#777"/>
<rect x="346.0" y="537.9" width="2.6" height="1.7" fill="#777"/>
<rect x="346.3" y="539.4" width="2.6" height="1.7" fill="#777"/>
<rect x="346.3" y="539.2" width="2.6" height="1.7" fill="#777"/>
<rect x="347.2" y="543.7" width="2.6" height="1.7" fill="#777"/>
<rect x="347.5" y="545.0" width="2.6" height="1.7" fill="#777"/>
<rect x="348.4" y="541.8" width="2.6" height="1.7" fill="#777"/>
<rect x="348.6" y="544.2" width="2.6" height="1.7" fill="#777"/>
<rect x="348.5" y="547.7" width="2.6" height="1.7" fill="#777"/>
<rect x="349.1" y="546.7" width="2.6" height="1.7" fill="#777"/>
<rect x="349.9" y="549.4" width="2.6" height="1.7" fill="#777"/>
<rect x="350.3" y="547.5" width="2.6" height="1.7" fill="#777"/>
<rect x="350.5" y="547.2" width="2.6" height="1.7" fill="#777"/>
<rect x="351.2" y="551.6" width="2.6" height="1.7" fill="#777"/>
<rect x="351.1" y="547.4" width="2.6" height="1.7" fill="#777"/>
<rect x="351.8" y="549.6" width="2.6" height="1.7" fill="#777"/>
<rect x="353.1" y="553.0" width="2.6" height="1.7" fill="#777"/>
<rect x="353.7" y="549.3" width="2.6" height="1.7" fill="#777"/>
<rect x="354.4" y="553.2" width="2.6" height="1.7" fill="#777"/>
<rect x="354.9" y="555.1" width="2.6" height="1.7" fill="#777"/>
<rect x="355.0" y="551.5" width="2.6" height="1.7" fill="#777"/>
<rect x="356.4" y="556.1" width="2.6" height="1.7" fill="#777"/>
<rect x="357.0" y="553.5" width="2.6" height="1.7" fill="#777"/>
<rect x="357.6" y="556.4" width="2.6" height="1.7" fill="#777"/>
<rect x="357.8" y="554.8" width="2.6" height="1.7" fill="#777"/>
<rect x="358.5" y="554.3" width="2.6" height="1.7" fill="#777"/>
<rect x="359.4" y="555.0" width="2.6" height="1.7" fill="#777"/>
<rect x="359.9" y="555.4" width="2.6" height="1.7" fill="#777"/>
<rect x="361.0" y="555.3" width="2.6" height="1.7" fill="#777"/>
<rect x="361.8" y="556.8" width="2.6" height="1.7" fill="#777"/>
<rect x="361.8" y="561.0" width="2.6" height="1.7" fill="#777"/>
<rect x="362.7" y="561.6" width="2.6" height="1.7" fill="#777"/>
<rect x="364.1" y="561.9" width="2.6" height="1.7" fill="#777"/>
<rect x="364.1" y="560.2" width="2.6" height="1.7" fill="#777"/>
<rect x="364.8" y="563.2" width="2.6" height="1.7" fill="#777"/>
<rect x="366.2" y="562.2" width="2.6" height="1.7" fill="#777"/>
<rect x="366.6" y="561.3" width="2.6" height="1.7" fill="#777"/>
<rect x="367.0" y="562.0" width="2.6" height="1.7" fill="#777"/>
<rect x="367.6" y="560.9" width="2.6" height="1.7" fill="#777"/>
<rect x="367.9" y="560.9" width="2.6" height="1.7" fill="#777"/>
<rect x="369.2" y="563.8" width="2.6" height="1.7" fill="#777"/>
<rect x="369.4" y="565.8" width="2.6" height="1.7" fill="#777"/>
<rect x="370.3" y="564.1" width="2.6" height="1.7" fill="#777"/>
<rect x="370.9" y="563.9" width="2.6" height="1.7" fill="#777"/>
<rect x="372.4" y="564.7" width="2.6" height="1.7" fill="#777"/>
<rect x="372.5" y="565.9" width="2.6" height="1.7" fill="#777"/>
<rect x="373.4" y="568.3" width="2.6" height="1.7" fill="#777"/>
<rect x="373.9" y="569.0" width="2.6" height="1.7" fill="#777"/>
<rect x="374.3" y="568.9" width="2.6" height="1.7" fill="#777"/>
<rect x="375.7" y="566.3" width="2.6" height="1.7" fill="#777"/>
<rect x="376.3" y="567.0" width="2.6" height="1.7" fill="#777"/>
<rect x="376.9" y="567.0" width="2.6" height="1.7" fill="#777"/>
<rect x="377.8" y="570.7" width="2.6" height="1.7" fill="#777"/>
<rect x="379.3" y="570.8" width="2.6" height="1.7" fill="#777"/>
<rect x="379.2" y="568.5" width="2.6" height="1.7" fill="#777"/>
<rect x="380.8" y="567.9" width="2.6" height="1.7" fill="#777"/>
<rect x="381.5" y="569.3" width="2.6" height="1.7" fill="#777"/>
<rect x="382.6" y="568.5" width="2.6" height="1.7" fill="#777"/>
<rect x="383.2" y="570.2" width="2.6" height="1.7" fill="#777"/>
<rect x="383.4" y="569.2" width="2.6" height="1.7" fill="#777"/>
<rect x="384.9" y="571.7" width="2.6" height="1.7" fill="#777"/>
<rect x="384.4" y="571.4" width="2.6" height="1.7" fill="#777"/>
<rect x="385.9" y="570.9" width="2.6" height="1.7" fill="#777"/>
<rect x="386.4" y="570.9" width="2.6" height="1.7" fill="#777"/>
<rect x="386.9" y="573.7" width="2.6" height="1.7" fill="#777"/>
<rect x="388.3" y="571.8" width="2.6" height="1.7" fill="#777"/>
<rect x="388.5" y="571.7" width="2.6" height="1.7" fill="#777"/>
<rect x="389.8" y="573.6" width="2.6" height="1.7" fill="#777"/>
<rect x="390.3" y="572.9" width="2.6" height="1.7" fill="#777"/>
<rect x="391.5" y="575.1" width="2.6" height="1.7" fill="#777"/>
<rect x="392.5" y="575.0" width="2.6" height="1.7" fill="#777"/>
<rect x="392.8" y="573.4" width="2.6" height="1.7" fill="#777"/>
<rect x="394.1" y="575.0" width="2.6" height="1.7" fill="#777"/>
<rect x="394.9" y="574.0" width="2.6" height="1.7" fill="#777"/>
<rect x="395.9" y="575.4" width="2.6" height="1.7" fill="#777"/>
<rect x="396.7" y="577.5" width="2.6" height="1.7" fill="#777"/>
<rect x="397.2" y="574.9" width="2.6" height="1.7" fill="#777"/>
<rect x="398.5" y="576.8" width="2.6" height="1.7" fill="#777"/>
<rect x="399.3" y="576.5" width="2.6" height="1.7" fill="#777"/>
<rect x="399.4" y="578.6" width="2.6" height="1.7" fill="#777"/>
<rect x="400.5" y="576.8" width="2.6" height="1.7" fill="#777"/>
<rect x="401.3" y="578.5" width="2.6" height="1.7" fill="#777"/>
<rect x="401.8" y="578.6" width="2.6" height="1.7" fill="#777"/>
<rect x="402.6" y="578.7" width="2.6" height="1.7" fill="#777"/>
<rect x="403.2" y="579.5" width="2.6" height="1.7" fill="#777"/>
<rect x="404.8" y="580.1" width="2.6" height="1.7" fill="#777"/>
<rect x="405.1" y="579.9" width="2.6" height="1.7" fill="#777"/>
<rect x="406.1" y="580.2" width="2.6" height="1.7" fill="#777"/>
<rect x="406.6" y="580.8" width="2.6" height="1.7" fill="#777"/>
<rect x="408.4" y="579.9" width="2.6" height="1.7" fill="#777"/>
<rect x="408.8" y="580.3" width="2.6" height="1.7" fill="#777"/>
<rect x="409.7" y="579.2" width="2.6" height="1.7" fill="#777"/>
<rect x="411.0" y="579.9" width="2.6" height="1.7" fill="#777"/>
<rect x="411.1" y="579.8" width="2.6" height="1.7" fill="#777"/>
<rect x="412.1" y="581.8" width="2.6" height="1.7" fill="#777"/>
<rect x="412.2" y="580.2" width="2.6" height="1.7" fill="#777"/>
<rect x="413.8" y="580.6" width="2.6" height="1.7" fill="#777"/>
<rect x="414.0" y="581.8" width="2.6" height="1.7" fill="#777"/>
<rect x="415.4" y="581.8" width="2.6" height="1.7" fill="#777"/>
<rect x="416.5" y="581.0" width="2.6" height="1.7" fill="#777"/>
<rect x="417.6" y="582.6" width="2.6" height="1.7" fill="#777"/>
<rect x="417.7" y="581.5" width="2.6" height="1.7" fill="#777"/>
<rect x="419.0" y="582.5" width="2.6" height="1.7" fill="#777"/>
<rect x="419.8" y="581.9" width="2.6" height="1.7" fill="#777"/>
<rect x="420.9" y="582.1" width="2.6" height="1.7" fill="#777"/>
<rect x="422.0" y="583.8" width="2.6" height="1.7" fill="#777"/>
<rect x="422.3" y="583.4" width="2.6" height="1.7" fill="#777"/>
<rect x="423.9" y="582.8" width="2.6" height="1.7" fill="#777"/>
<rect x="425.0" y="584.4" width="2.6" height="1.7" fill="#777"/>
<rect x="425.5" y="583.6" width="2.6" height="1.7" fill="#777"/>
<rect x="427.0" y="584.0" width="2.6" height="1.7" fill="#777"/>
<rect x="427.5" y="584.9" width="2.6" height="1.7" fill="#777"/>
<rect x="428.9" y="584.0" width="2.6" height="1.7" fill="#777"/>
<rect x="429.3" y="584.2" width="2.6" height="1.7" fill="#777"/>
<rect x="430.5" y="585.4" width="2.6" height="1.7" fill="#777"/>
<rect x="431.9" y="585.5" width="2.6" height="1.7" fill="#777"/>
<path d="M89.6,585.2 L99.2,587.7 L106.0,586.2 L118.5,584.2 L131.0,581.9 L144.4,578.8 L152.1,576.5 L158.8,573.7 L164.6,570.8 L169.4,568.5 L174.2,566.0 L177.0,561.9 L180.5,557.5 L182.9,554.2 L187.6,548.0 L191.4,541.8 L195.0,536.1 L199.0,530.2 L202.6,523.9 L206.1,517.9 L208.5,511.4 L212.5,505.2 L215.6,500.0 L223.5,486.1 L231.0,476.0 L237.0,467.8 L240.5,462.3" fill="none" stroke="#2a2a2a" stroke-width="1.6" stroke-linecap="butt" stroke-dasharray="1.8 4.4"/>
<path d="M304.2,460.7 L331.5,460.7 L338.6,465.4 L345.7,472.5 L352.8,479.6 L358.8,488.0 L363.5,496.2 L368.3,504.5 L371.8,512.8 L376.6,521.1 L381.3,529.4 L384.9,535.4 L389.6,543.7 L395.5,552.0 L401.5,559.1 L410.0,566.2 L426.2,575.4 L440.0,581.2 L445.8,585.8" fill="none" stroke="#2a2a2a" stroke-width="1.6" stroke-linecap="butt" stroke-dasharray="1.8 4.4"/>
<circle cx="89.6" cy="593.5" r="3.15" fill="#000"/>
<circle cx="93.5" cy="593.5" r="3.15" fill="#000"/>
<circle cx="97.5" cy="593.5" r="3.15" fill="#000"/>
<circle cx="101.5" cy="593.5" r="3.15" fill="#000"/>
<circle cx="105.0" cy="593.5" r="3.15" fill="#000"/>
<circle cx="112.5" cy="593.5" r="3.15" fill="#000"/>
<circle cx="120.0" cy="593.5" r="3.15" fill="#000"/>
<circle cx="124.0" cy="593.5" r="3.15" fill="#000"/>
<circle cx="128.0" cy="593.5" r="3.15" fill="#000"/>
<circle cx="132.0" cy="593.5" r="3.15" fill="#000"/>
<circle cx="136.0" cy="593.5" r="3.15" fill="#000"/>
<circle cx="140.5" cy="593.5" r="3.15" fill="#000"/>
<circle cx="145.0" cy="593.5" r="3.15" fill="#000"/>
<circle cx="149.0" cy="593.5" r="3.15" fill="#000"/>
<circle cx="153.0" cy="593.5" r="3.15" fill="#000"/>
<circle cx="157.0" cy="593.5" r="3.15" fill="#000"/>
<circle cx="163.0" cy="588.5" r="3.15" fill="#000"/>
<circle cx="167.7" cy="585.0" r="3.15" fill="#000"/>
<circle cx="173.5" cy="580.4" r="3.15" fill="#000"/>
<circle cx="178.0" cy="579.2" r="3.15" fill="#000"/>
<circle cx="181.9" cy="578.0" r="3.15" fill="#000"/>
<circle cx="188.3" cy="561.0" r="3.15" fill="#000"/>
<circle cx="193.0" cy="556.2" r="3.15" fill="#000"/>
<circle cx="195.4" cy="553.2" r="3.15" fill="#000"/>
<circle cx="200.2" cy="552.4" r="3.15" fill="#000"/>
<circle cx="204.9" cy="552.4" r="3.15" fill="#000"/>
<circle cx="209.6" cy="552.4" r="3.15" fill="#000"/>
<circle cx="213.2" cy="552.4" r="3.15" fill="#000"/>
<circle cx="210.8" cy="550.8" r="3.15" fill="#000"/>
<circle cx="213.2" cy="512.8" r="3.15" fill="#000"/>
<circle cx="218.0" cy="512.8" r="3.15" fill="#000"/>
<circle cx="222.7" cy="502.6" r="3.15" fill="#000"/>
<circle cx="227.4" cy="479.6" r="3.15" fill="#000"/>
<circle cx="229.8" cy="479.6" r="3.15" fill="#000"/>
<circle cx="238.1" cy="479.6" r="3.15" fill="#000"/>
<circle cx="241.7" cy="460.7" r="3.15" fill="#000"/>
<circle cx="245.5" cy="460.7" r="3.15" fill="#000"/>
<circle cx="248.5" cy="460.7" r="3.15" fill="#000"/>
<circle cx="251.8" cy="460.7" r="3.15" fill="#000"/>
<circle cx="261.3" cy="460.7" r="3.15" fill="#000"/>
<circle cx="265.0" cy="460.7" r="3.15" fill="#000"/>
<circle cx="268.5" cy="460.7" r="3.15" fill="#000"/>
<circle cx="272.0" cy="460.7" r="3.15" fill="#000"/>
<circle cx="275.5" cy="460.7" r="3.15" fill="#000"/>
<circle cx="278.5" cy="460.7" r="3.15" fill="#000"/>
<circle cx="280.7" cy="460.7" r="3.15" fill="#000"/>
<circle cx="297.4" cy="460.7" r="3.15" fill="#000"/>
<circle cx="299.0" cy="460.7" r="3.15" fill="#000"/>
<circle cx="299.8" cy="495.0" r="3.15" fill="#000"/>
<circle cx="300.7" cy="495.5" r="3.15" fill="#000"/>
<circle cx="307.8" cy="495.5" r="3.15" fill="#000"/>
<circle cx="311.3" cy="495.5" r="3.15" fill="#000"/>
<circle cx="314.9" cy="495.5" r="3.15" fill="#000"/>
<circle cx="318.5" cy="495.5" r="3.15" fill="#000"/>
<circle cx="322.0" cy="495.5" r="3.15" fill="#000"/>
<circle cx="324.4" cy="495.5" r="3.15" fill="#000"/>
<circle cx="326.8" cy="517.6" r="3.15" fill="#000"/>
<circle cx="331.5" cy="517.6" r="3.15" fill="#000"/>
<circle cx="333.2" cy="539.6" r="3.15" fill="#000"/>
<circle cx="339.8" cy="539.6" r="3.15" fill="#000"/>
<circle cx="345.7" cy="539.6" r="3.15" fill="#000"/>
<circle cx="349.3" cy="539.6" r="3.15" fill="#000"/>
<circle cx="352.8" cy="539.6" r="3.15" fill="#000"/>
<circle cx="363.0" cy="539.6" r="3.15" fill="#000"/>
<circle cx="369.4" cy="539.6" r="3.15" fill="#000"/>
<circle cx="373.0" cy="539.6" r="3.15" fill="#000"/>
<circle cx="376.6" cy="539.6" r="3.15" fill="#000"/>
<circle cx="383.7" cy="539.6" r="3.15" fill="#000"/>
<circle cx="387.2" cy="539.6" r="3.15" fill="#000"/>
<circle cx="389.6" cy="552.0" r="3.15" fill="#000"/>
<circle cx="394.3" cy="555.5" r="3.15" fill="#000"/>
<circle cx="397.9" cy="559.1" r="3.15" fill="#000"/>
<circle cx="403.8" cy="559.1" r="3.15" fill="#000"/>
<circle cx="405.4" cy="559.2" r="3.15" fill="#000"/>
<circle cx="407.4" cy="572.1" r="3.15" fill="#000"/>
<circle cx="410.0" cy="574.2" r="3.15" fill="#000"/>
<circle cx="416.9" cy="574.9" r="3.15" fill="#000"/>
<circle cx="421.5" cy="577.7" r="3.15" fill="#000"/>
<circle cx="422.7" cy="582.3" r="3.15" fill="#000"/>
<circle cx="425.0" cy="586.9" r="3.15" fill="#000"/>
<circle cx="429.6" cy="587.6" r="3.15" fill="#000"/>
<circle cx="434.2" cy="588.1" r="3.15" fill="#000"/>
<circle cx="437.7" cy="588.8" r="3.15" fill="#000"/>
<circle cx="442.3" cy="588.8" r="3.15" fill="#000"/>
<text x="0" y="0" class="ax" transform="translate(9.2,310.8) rotate(-90)" text-anchor="middle">EHH</text>
<text x="268.2" y="629.6" class="ax" text-anchor="middle">Chromosomal position</text>
</svg>
</body></html>
